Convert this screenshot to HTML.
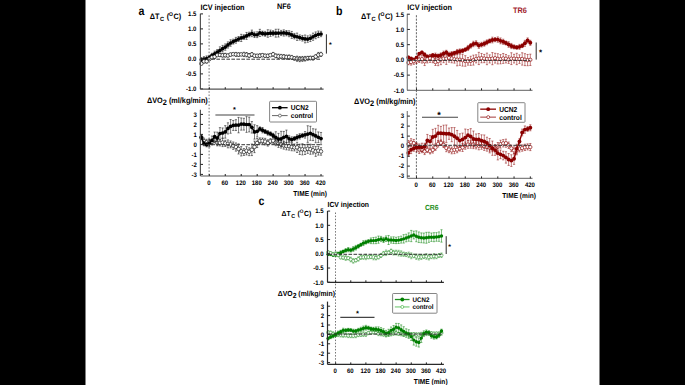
<!DOCTYPE html><html><head><meta charset="utf-8"><style>html,body{margin:0;padding:0;background:#000;overflow:hidden}svg{display:block}text{font-family:"Liberation Sans",sans-serif;text-rendering:geometricPrecision}</style></head><body>
<svg width="685" height="385" viewBox="0 0 685 385">
<rect x="0" y="0" width="685" height="385" fill="#000"/>
<rect x="85.5" y="0" width="514" height="385" fill="#fff"/>
<g>
<line x1="209.1" y1="15.3" x2="209.1" y2="176.0" stroke="#666" stroke-width="0.9" stroke-dasharray="1.6 1.7"/>
<path d="M201.32,57.62V61.74M200.22,57.62h2.2M200.22,61.74h2.2M203.98,56.66V61.55M202.88,56.66h2.2M202.88,61.55h2.2M206.64,55.93V61.22M205.54,55.93h2.2M205.54,61.22h2.2M209.30,55.37V59.68M208.20,55.37h2.2M208.20,59.68h2.2M211.96,53.24V57.47M210.86,53.24h2.2M210.86,57.47h2.2M214.62,51.11V56.69M213.52,51.11h2.2M213.52,56.69h2.2M217.28,49.55V54.87M216.18,49.55h2.2M216.18,54.87h2.2M219.94,46.84V53.77M218.84,46.84h2.2M218.84,53.77h2.2M222.60,45.37V51.94M221.50,45.37h2.2M221.50,51.94h2.2M225.26,43.93V50.24M224.16,43.93h2.2M224.16,50.24h2.2M227.92,41.89V48.06M226.82,41.89h2.2M226.82,48.06h2.2M230.58,39.76V46.24M229.48,39.76h2.2M229.48,46.24h2.2M233.24,39.15V44.08M232.14,39.15h2.2M232.14,44.08h2.2M235.90,37.36V43.18M234.80,37.36h2.2M234.80,43.18h2.2M238.56,36.50V41.48M237.46,36.50h2.2M237.46,41.48h2.2M241.22,34.30V41.52M240.12,34.30h2.2M240.12,41.52h2.2M243.88,34.72V39.40M242.78,34.72h2.2M242.78,39.40h2.2M246.54,32.43V39.39M245.44,32.43h2.2M245.44,39.39h2.2M249.20,32.15V36.88M248.10,32.15h2.2M248.10,36.88h2.2M251.86,30.09V36.68M250.76,30.09h2.2M250.76,36.68h2.2M254.52,31.97V37.54M253.42,31.97h2.2M253.42,37.54h2.2M257.18,31.82V37.63M256.08,31.82h2.2M256.08,37.63h2.2M259.84,29.32V36.51M258.74,29.32h2.2M258.74,36.51h2.2M262.50,31.11V35.80M261.40,31.11h2.2M261.40,35.80h2.2M265.16,31.37V36.22M264.06,31.37h2.2M264.06,36.22h2.2M267.82,29.72V37.27M266.72,29.72h2.2M266.72,37.27h2.2M270.48,30.04V36.36M269.38,30.04h2.2M269.38,36.36h2.2M273.14,30.68V35.72M272.04,30.68h2.2M272.04,35.72h2.2M275.80,29.24V37.16M274.70,29.24h2.2M274.70,37.16h2.2M278.46,29.20V37.03M277.36,29.20h2.2M277.36,37.03h2.2M281.12,30.39V35.59M280.02,30.39h2.2M280.02,35.59h2.2M283.78,29.85V36.08M282.68,29.85h2.2M282.68,36.08h2.2M286.44,30.51V35.84M285.34,30.51h2.2M285.34,35.84h2.2M289.10,30.79V36.73M288.00,30.79h2.2M288.00,36.73h2.2M291.76,31.42V38.42M290.66,31.42h2.2M290.66,38.42h2.2M294.42,33.39V38.91M293.32,33.39h2.2M293.32,38.91h2.2M297.08,33.09V40.41M295.98,33.09h2.2M295.98,40.41h2.2M299.74,34.88V40.09M298.64,34.88h2.2M298.64,40.09h2.2M302.40,35.43V41.07M301.30,35.43h2.2M301.30,41.07h2.2M305.06,35.00V42.86M303.96,35.00h2.2M303.96,42.86h2.2M307.72,35.83V42.31M306.62,35.83h2.2M306.62,42.31h2.2M310.38,34.97V41.56M309.28,34.97h2.2M309.28,41.56h2.2M313.04,33.11V40.34M311.94,33.11h2.2M311.94,40.34h2.2M315.70,31.93V38.78M314.60,31.93h2.2M314.60,38.78h2.2M318.36,31.03V37.60M317.26,31.03h2.2M317.26,37.60h2.2M321.02,31.32V36.68M319.92,31.32h2.2M319.92,36.68h2.2" stroke="#000" stroke-width="0.5" fill="none"/>
<path d="M201.32,59.68 L203.98,59.10 L206.64,58.57 L209.30,57.52 L211.96,55.36 L214.62,53.90 L217.28,52.21 L219.94,50.30 L222.60,48.66 L225.26,47.08 L227.92,44.97 L230.58,43.00 L233.24,41.62 L235.90,40.27 L238.56,38.99 L241.22,37.91 L243.88,37.06 L246.54,35.91 L249.20,34.51 L251.86,33.39 L254.52,34.75 L257.18,34.73 L259.84,32.92 L262.50,33.45 L265.16,33.79 L267.82,33.50 L270.48,33.20 L273.14,33.20 L275.80,33.20 L278.46,33.12 L281.12,32.99 L283.78,32.96 L286.44,33.18 L289.10,33.76 L291.76,34.92 L294.42,36.15 L297.08,36.75 L299.74,37.49 L302.40,38.25 L305.06,38.93 L307.72,39.07 L310.38,38.26 L313.04,36.73 L315.70,35.35 L318.36,34.31 L321.02,34.00" fill="none" stroke="#000" stroke-width="1.4"/>
<circle cx="201.32" cy="59.68" r="1.85" fill="#000"/>
<circle cx="203.98" cy="59.10" r="1.85" fill="#000"/>
<circle cx="206.64" cy="58.57" r="1.85" fill="#000"/>
<circle cx="209.30" cy="57.52" r="1.85" fill="#000"/>
<circle cx="211.96" cy="55.36" r="1.85" fill="#000"/>
<circle cx="214.62" cy="53.90" r="1.85" fill="#000"/>
<circle cx="217.28" cy="52.21" r="1.85" fill="#000"/>
<circle cx="219.94" cy="50.30" r="1.85" fill="#000"/>
<circle cx="222.60" cy="48.66" r="1.85" fill="#000"/>
<circle cx="225.26" cy="47.08" r="1.85" fill="#000"/>
<circle cx="227.92" cy="44.97" r="1.85" fill="#000"/>
<circle cx="230.58" cy="43.00" r="1.85" fill="#000"/>
<circle cx="233.24" cy="41.62" r="1.85" fill="#000"/>
<circle cx="235.90" cy="40.27" r="1.85" fill="#000"/>
<circle cx="238.56" cy="38.99" r="1.85" fill="#000"/>
<circle cx="241.22" cy="37.91" r="1.85" fill="#000"/>
<circle cx="243.88" cy="37.06" r="1.85" fill="#000"/>
<circle cx="246.54" cy="35.91" r="1.85" fill="#000"/>
<circle cx="249.20" cy="34.51" r="1.85" fill="#000"/>
<circle cx="251.86" cy="33.39" r="1.85" fill="#000"/>
<circle cx="254.52" cy="34.75" r="1.85" fill="#000"/>
<circle cx="257.18" cy="34.73" r="1.85" fill="#000"/>
<circle cx="259.84" cy="32.92" r="1.85" fill="#000"/>
<circle cx="262.50" cy="33.45" r="1.85" fill="#000"/>
<circle cx="265.16" cy="33.79" r="1.85" fill="#000"/>
<circle cx="267.82" cy="33.50" r="1.85" fill="#000"/>
<circle cx="270.48" cy="33.20" r="1.85" fill="#000"/>
<circle cx="273.14" cy="33.20" r="1.85" fill="#000"/>
<circle cx="275.80" cy="33.20" r="1.85" fill="#000"/>
<circle cx="278.46" cy="33.12" r="1.85" fill="#000"/>
<circle cx="281.12" cy="32.99" r="1.85" fill="#000"/>
<circle cx="283.78" cy="32.96" r="1.85" fill="#000"/>
<circle cx="286.44" cy="33.18" r="1.85" fill="#000"/>
<circle cx="289.10" cy="33.76" r="1.85" fill="#000"/>
<circle cx="291.76" cy="34.92" r="1.85" fill="#000"/>
<circle cx="294.42" cy="36.15" r="1.85" fill="#000"/>
<circle cx="297.08" cy="36.75" r="1.85" fill="#000"/>
<circle cx="299.74" cy="37.49" r="1.85" fill="#000"/>
<circle cx="302.40" cy="38.25" r="1.85" fill="#000"/>
<circle cx="305.06" cy="38.93" r="1.85" fill="#000"/>
<circle cx="307.72" cy="39.07" r="1.85" fill="#000"/>
<circle cx="310.38" cy="38.26" r="1.85" fill="#000"/>
<circle cx="313.04" cy="36.73" r="1.85" fill="#000"/>
<circle cx="315.70" cy="35.35" r="1.85" fill="#000"/>
<circle cx="318.36" cy="34.31" r="1.85" fill="#000"/>
<circle cx="321.02" cy="34.00" r="1.85" fill="#000"/>
<path d="M201.32,62.15V65.10M200.22,62.15h2.2M200.22,65.10h2.2M203.98,59.80V62.94M202.88,59.80h2.2M202.88,62.94h2.2M206.64,59.40V63.13M205.54,59.40h2.2M205.54,63.13h2.2M209.30,57.55V60.60M208.20,57.55h2.2M208.20,60.60h2.2M211.96,55.73V58.88M210.86,55.73h2.2M210.86,58.88h2.2M214.62,55.09V58.40M213.52,55.09h2.2M213.52,58.40h2.2M217.28,53.74V56.44M216.18,53.74h2.2M216.18,56.44h2.2M219.94,53.35V56.60M218.84,53.35h2.2M218.84,56.60h2.2M222.60,53.56V57.04M221.50,53.56h2.2M221.50,57.04h2.2M225.26,53.31V57.09M224.16,53.31h2.2M224.16,57.09h2.2M227.92,54.18V56.84M226.82,54.18h2.2M226.82,56.84h2.2M230.58,53.05V56.08M229.48,53.05h2.2M229.48,56.08h2.2M233.24,52.81V55.51M232.14,52.81h2.2M232.14,55.51h2.2M235.90,52.42V56.37M234.80,52.42h2.2M234.80,56.37h2.2M238.56,52.72V56.51M237.46,52.72h2.2M237.46,56.51h2.2M241.22,53.06V55.74M240.12,53.06h2.2M240.12,55.74h2.2M243.88,52.22V56.58M242.78,52.22h2.2M242.78,56.58h2.2M246.54,52.52V56.88M245.44,52.52h2.2M245.44,56.88h2.2M249.20,53.52V57.37M248.10,53.52h2.2M248.10,57.37h2.2M251.86,52.59V56.40M250.76,52.59h2.2M250.76,56.40h2.2M254.52,54.24V57.25M253.42,54.24h2.2M253.42,57.25h2.2M257.18,54.37V57.14M256.08,54.37h2.2M256.08,57.14h2.2M259.84,53.82V57.57M258.74,53.82h2.2M258.74,57.57h2.2M262.50,53.73V56.64M261.40,53.73h2.2M261.40,56.64h2.2M265.16,54.16V57.33M264.06,54.16h2.2M264.06,57.33h2.2M267.82,54.17V57.47M266.72,54.17h2.2M266.72,57.47h2.2M270.48,53.68V56.61M269.38,53.68h2.2M269.38,56.61h2.2M273.14,52.41V56.19M272.04,52.41h2.2M272.04,56.19h2.2M275.80,53.97V57.74M274.70,53.97h2.2M274.70,57.74h2.2M278.46,54.07V58.65M277.36,54.07h2.2M277.36,58.65h2.2M281.12,54.39V58.38M280.02,54.39h2.2M280.02,58.38h2.2M283.78,54.53V58.78M282.68,54.53h2.2M282.68,58.78h2.2M286.44,55.07V59.07M285.34,55.07h2.2M285.34,59.07h2.2M289.10,54.91V59.27M288.00,54.91h2.2M288.00,59.27h2.2M291.76,55.40V59.39M290.66,55.40h2.2M290.66,59.39h2.2M294.42,56.53V60.18M293.32,56.53h2.2M293.32,60.18h2.2M297.08,56.16V61.32M295.98,56.16h2.2M295.98,61.32h2.2M299.74,56.49V61.68M298.64,56.49h2.2M298.64,61.68h2.2M302.40,56.44V61.35M301.30,56.44h2.2M301.30,61.35h2.2M305.06,56.40V61.06M303.96,56.40h2.2M303.96,61.06h2.2M307.72,56.30V60.16M306.62,56.30h2.2M306.62,60.16h2.2M310.38,56.16V59.87M309.28,56.16h2.2M309.28,59.87h2.2M313.04,56.20V60.06M311.94,56.20h2.2M311.94,60.06h2.2M315.70,54.85V58.27M314.60,54.85h2.2M314.60,58.27h2.2M318.36,52.42V57.39M317.26,52.42h2.2M317.26,57.39h2.2M321.02,52.27V56.45M319.92,52.27h2.2M319.92,56.45h2.2" stroke="#000" stroke-width="0.5" fill="none"/>
<path d="M201.32,63.62 L203.98,61.37 L206.64,61.26 L209.30,59.08 L211.96,57.30 L214.62,56.75 L217.28,55.09 L219.94,54.98 L222.60,55.30 L225.26,55.20 L227.92,55.51 L230.58,54.56 L233.24,54.16 L235.90,54.39 L238.56,54.62 L241.22,54.40 L243.88,54.40 L246.54,54.70 L249.20,55.45 L251.86,54.49 L254.52,55.74 L257.18,55.76 L259.84,55.70 L262.50,55.19 L265.16,55.75 L267.82,55.82 L270.48,55.15 L273.14,54.30 L275.80,55.85 L278.46,56.36 L281.12,56.39 L283.78,56.66 L286.44,57.07 L289.10,57.09 L291.76,57.40 L294.42,58.35 L297.08,58.74 L299.74,59.08 L302.40,58.89 L305.06,58.73 L307.72,58.23 L310.38,58.02 L313.04,58.13 L315.70,56.56 L318.36,54.90 L321.02,54.36" fill="none" stroke="#000" stroke-width="0.8"/>
<circle cx="201.32" cy="63.62" r="1.80" fill="#fff" stroke="#000" stroke-width="0.6"/>
<circle cx="203.98" cy="61.37" r="1.80" fill="#fff" stroke="#000" stroke-width="0.6"/>
<circle cx="206.64" cy="61.26" r="1.80" fill="#fff" stroke="#000" stroke-width="0.6"/>
<circle cx="209.30" cy="59.08" r="1.80" fill="#fff" stroke="#000" stroke-width="0.6"/>
<circle cx="211.96" cy="57.30" r="1.80" fill="#fff" stroke="#000" stroke-width="0.6"/>
<circle cx="214.62" cy="56.75" r="1.80" fill="#fff" stroke="#000" stroke-width="0.6"/>
<circle cx="217.28" cy="55.09" r="1.80" fill="#fff" stroke="#000" stroke-width="0.6"/>
<circle cx="219.94" cy="54.98" r="1.80" fill="#fff" stroke="#000" stroke-width="0.6"/>
<circle cx="222.60" cy="55.30" r="1.80" fill="#fff" stroke="#000" stroke-width="0.6"/>
<circle cx="225.26" cy="55.20" r="1.80" fill="#fff" stroke="#000" stroke-width="0.6"/>
<circle cx="227.92" cy="55.51" r="1.80" fill="#fff" stroke="#000" stroke-width="0.6"/>
<circle cx="230.58" cy="54.56" r="1.80" fill="#fff" stroke="#000" stroke-width="0.6"/>
<circle cx="233.24" cy="54.16" r="1.80" fill="#fff" stroke="#000" stroke-width="0.6"/>
<circle cx="235.90" cy="54.39" r="1.80" fill="#fff" stroke="#000" stroke-width="0.6"/>
<circle cx="238.56" cy="54.62" r="1.80" fill="#fff" stroke="#000" stroke-width="0.6"/>
<circle cx="241.22" cy="54.40" r="1.80" fill="#fff" stroke="#000" stroke-width="0.6"/>
<circle cx="243.88" cy="54.40" r="1.80" fill="#fff" stroke="#000" stroke-width="0.6"/>
<circle cx="246.54" cy="54.70" r="1.80" fill="#fff" stroke="#000" stroke-width="0.6"/>
<circle cx="249.20" cy="55.45" r="1.80" fill="#fff" stroke="#000" stroke-width="0.6"/>
<circle cx="251.86" cy="54.49" r="1.80" fill="#fff" stroke="#000" stroke-width="0.6"/>
<circle cx="254.52" cy="55.74" r="1.80" fill="#fff" stroke="#000" stroke-width="0.6"/>
<circle cx="257.18" cy="55.76" r="1.80" fill="#fff" stroke="#000" stroke-width="0.6"/>
<circle cx="259.84" cy="55.70" r="1.80" fill="#fff" stroke="#000" stroke-width="0.6"/>
<circle cx="262.50" cy="55.19" r="1.80" fill="#fff" stroke="#000" stroke-width="0.6"/>
<circle cx="265.16" cy="55.75" r="1.80" fill="#fff" stroke="#000" stroke-width="0.6"/>
<circle cx="267.82" cy="55.82" r="1.80" fill="#fff" stroke="#000" stroke-width="0.6"/>
<circle cx="270.48" cy="55.15" r="1.80" fill="#fff" stroke="#000" stroke-width="0.6"/>
<circle cx="273.14" cy="54.30" r="1.80" fill="#fff" stroke="#000" stroke-width="0.6"/>
<circle cx="275.80" cy="55.85" r="1.80" fill="#fff" stroke="#000" stroke-width="0.6"/>
<circle cx="278.46" cy="56.36" r="1.80" fill="#fff" stroke="#000" stroke-width="0.6"/>
<circle cx="281.12" cy="56.39" r="1.80" fill="#fff" stroke="#000" stroke-width="0.6"/>
<circle cx="283.78" cy="56.66" r="1.80" fill="#fff" stroke="#000" stroke-width="0.6"/>
<circle cx="286.44" cy="57.07" r="1.80" fill="#fff" stroke="#000" stroke-width="0.6"/>
<circle cx="289.10" cy="57.09" r="1.80" fill="#fff" stroke="#000" stroke-width="0.6"/>
<circle cx="291.76" cy="57.40" r="1.80" fill="#fff" stroke="#000" stroke-width="0.6"/>
<circle cx="294.42" cy="58.35" r="1.80" fill="#fff" stroke="#000" stroke-width="0.6"/>
<circle cx="297.08" cy="58.74" r="1.80" fill="#fff" stroke="#000" stroke-width="0.6"/>
<circle cx="299.74" cy="59.08" r="1.80" fill="#fff" stroke="#000" stroke-width="0.6"/>
<circle cx="302.40" cy="58.89" r="1.80" fill="#fff" stroke="#000" stroke-width="0.6"/>
<circle cx="305.06" cy="58.73" r="1.80" fill="#fff" stroke="#000" stroke-width="0.6"/>
<circle cx="307.72" cy="58.23" r="1.80" fill="#fff" stroke="#000" stroke-width="0.6"/>
<circle cx="310.38" cy="58.02" r="1.80" fill="#fff" stroke="#000" stroke-width="0.6"/>
<circle cx="313.04" cy="58.13" r="1.80" fill="#fff" stroke="#000" stroke-width="0.6"/>
<circle cx="315.70" cy="56.56" r="1.80" fill="#fff" stroke="#000" stroke-width="0.6"/>
<circle cx="318.36" cy="54.90" r="1.80" fill="#fff" stroke="#000" stroke-width="0.6"/>
<circle cx="321.02" cy="54.36" r="1.80" fill="#fff" stroke="#000" stroke-width="0.6"/>
<path d="M201.32,135.11V139.63M200.22,135.11h2.2M200.22,139.63h2.2M203.98,138.10V144.00M202.88,138.10h2.2M202.88,144.00h2.2M206.64,139.26V145.45M205.54,139.26h2.2M205.54,145.45h2.2M209.30,139.04V146.00M208.20,139.04h2.2M208.20,146.00h2.2M211.96,139.42V144.64M210.86,139.42h2.2M210.86,144.64h2.2M214.62,137.18V142.77M213.52,137.18h2.2M213.52,142.77h2.2M217.28,140.31V145.85M216.18,140.31h2.2M216.18,145.85h2.2M219.94,139.89V145.92M218.84,139.89h2.2M218.84,145.92h2.2M222.60,138.50V146.61M221.50,138.50h2.2M221.50,146.61h2.2M225.26,140.32V146.45M224.16,140.32h2.2M224.16,146.45h2.2M227.92,139.92V147.83M226.82,139.92h2.2M226.82,147.83h2.2M230.58,140.94V147.84M229.48,140.94h2.2M229.48,147.84h2.2M233.24,141.98V149.40M232.14,141.98h2.2M232.14,149.40h2.2M235.90,142.95V151.14M234.80,142.95h2.2M234.80,151.14h2.2M238.56,143.85V154.00M237.46,143.85h2.2M237.46,154.00h2.2M241.22,146.58V155.96M240.12,146.58h2.2M240.12,155.96h2.2M243.88,148.56V155.46M242.78,148.56h2.2M242.78,155.46h2.2M246.54,146.69V154.97M245.44,146.69h2.2M245.44,154.97h2.2M249.20,147.80V155.65M248.10,147.80h2.2M248.10,155.65h2.2M251.86,144.02V155.58M250.76,144.02h2.2M250.76,155.58h2.2M254.52,141.14V152.65M253.42,141.14h2.2M253.42,152.65h2.2M257.18,138.54V147.56M256.08,138.54h2.2M256.08,147.56h2.2M259.84,137.87V143.87M258.74,137.87h2.2M258.74,143.87h2.2M262.50,137.97V143.77M261.40,137.97h2.2M261.40,143.77h2.2M265.16,138.34V144.88M264.06,138.34h2.2M264.06,144.88h2.2M267.82,139.77V146.10M266.72,139.77h2.2M266.72,146.10h2.2M270.48,138.67V143.67M269.38,138.67h2.2M269.38,143.67h2.2M273.14,137.25V144.15M272.04,137.25h2.2M272.04,144.15h2.2M275.80,139.57V145.69M274.70,139.57h2.2M274.70,145.69h2.2M278.46,139.88V147.42M277.36,139.88h2.2M277.36,147.42h2.2M281.12,140.64V148.09M280.02,140.64h2.2M280.02,148.09h2.2M283.78,141.65V149.13M282.68,141.65h2.2M282.68,149.13h2.2M286.44,142.30V149.85M285.34,142.30h2.2M285.34,149.85h2.2M289.10,142.15V150.13M288.00,142.15h2.2M288.00,150.13h2.2M291.76,143.11V150.77M290.66,143.11h2.2M290.66,150.77h2.2M294.42,143.95V150.93M293.32,143.95h2.2M293.32,150.93h2.2M297.08,142.28V152.49M295.98,142.28h2.2M295.98,152.49h2.2M299.74,144.15V154.47M298.64,144.15h2.2M298.64,154.47h2.2M302.40,143.72V154.91M301.30,143.72h2.2M301.30,154.91h2.2M305.06,144.67V154.52M303.96,144.67h2.2M303.96,154.52h2.2M307.72,144.14V153.39M306.62,144.14h2.2M306.62,153.39h2.2M310.38,144.15V154.27M309.28,144.15h2.2M309.28,154.27h2.2M313.04,146.67V154.02M311.94,146.67h2.2M311.94,154.02h2.2M315.70,146.57V156.37M314.60,146.57h2.2M314.60,156.37h2.2M318.36,146.36V155.11M317.26,146.36h2.2M317.26,155.11h2.2M321.02,147.65V155.20M319.92,147.65h2.2M319.92,155.20h2.2" stroke="#000" stroke-width="0.5" fill="none"/>
<path d="M201.32,137.37 L203.98,141.05 L206.64,142.36 L209.30,142.52 L211.96,142.03 L214.62,139.98 L217.28,143.08 L219.94,142.91 L222.60,142.55 L225.26,143.39 L227.92,143.87 L230.58,144.39 L233.24,145.69 L235.90,147.04 L238.56,148.93 L241.22,151.27 L243.88,152.01 L246.54,150.83 L249.20,151.72 L251.86,149.80 L254.52,146.89 L257.18,143.05 L259.84,140.87 L262.50,140.87 L265.16,141.61 L267.82,142.94 L270.48,141.17 L273.14,140.70 L275.80,142.63 L278.46,143.65 L281.12,144.36 L283.78,145.39 L286.44,146.07 L289.10,146.14 L291.76,146.94 L294.42,147.44 L297.08,147.38 L299.74,149.31 L302.40,149.31 L305.06,149.60 L307.72,148.76 L310.38,149.21 L313.04,150.34 L315.70,151.47 L318.36,150.73 L321.02,151.43" fill="none" stroke="#000" stroke-width="0.8"/>
<circle cx="201.32" cy="137.37" r="1.80" fill="#fff" stroke="#000" stroke-width="0.6"/>
<circle cx="203.98" cy="141.05" r="1.80" fill="#fff" stroke="#000" stroke-width="0.6"/>
<circle cx="206.64" cy="142.36" r="1.80" fill="#fff" stroke="#000" stroke-width="0.6"/>
<circle cx="209.30" cy="142.52" r="1.80" fill="#fff" stroke="#000" stroke-width="0.6"/>
<circle cx="211.96" cy="142.03" r="1.80" fill="#fff" stroke="#000" stroke-width="0.6"/>
<circle cx="214.62" cy="139.98" r="1.80" fill="#fff" stroke="#000" stroke-width="0.6"/>
<circle cx="217.28" cy="143.08" r="1.80" fill="#fff" stroke="#000" stroke-width="0.6"/>
<circle cx="219.94" cy="142.91" r="1.80" fill="#fff" stroke="#000" stroke-width="0.6"/>
<circle cx="222.60" cy="142.55" r="1.80" fill="#fff" stroke="#000" stroke-width="0.6"/>
<circle cx="225.26" cy="143.39" r="1.80" fill="#fff" stroke="#000" stroke-width="0.6"/>
<circle cx="227.92" cy="143.87" r="1.80" fill="#fff" stroke="#000" stroke-width="0.6"/>
<circle cx="230.58" cy="144.39" r="1.80" fill="#fff" stroke="#000" stroke-width="0.6"/>
<circle cx="233.24" cy="145.69" r="1.80" fill="#fff" stroke="#000" stroke-width="0.6"/>
<circle cx="235.90" cy="147.04" r="1.80" fill="#fff" stroke="#000" stroke-width="0.6"/>
<circle cx="238.56" cy="148.93" r="1.80" fill="#fff" stroke="#000" stroke-width="0.6"/>
<circle cx="241.22" cy="151.27" r="1.80" fill="#fff" stroke="#000" stroke-width="0.6"/>
<circle cx="243.88" cy="152.01" r="1.80" fill="#fff" stroke="#000" stroke-width="0.6"/>
<circle cx="246.54" cy="150.83" r="1.80" fill="#fff" stroke="#000" stroke-width="0.6"/>
<circle cx="249.20" cy="151.72" r="1.80" fill="#fff" stroke="#000" stroke-width="0.6"/>
<circle cx="251.86" cy="149.80" r="1.80" fill="#fff" stroke="#000" stroke-width="0.6"/>
<circle cx="254.52" cy="146.89" r="1.80" fill="#fff" stroke="#000" stroke-width="0.6"/>
<circle cx="257.18" cy="143.05" r="1.80" fill="#fff" stroke="#000" stroke-width="0.6"/>
<circle cx="259.84" cy="140.87" r="1.80" fill="#fff" stroke="#000" stroke-width="0.6"/>
<circle cx="262.50" cy="140.87" r="1.80" fill="#fff" stroke="#000" stroke-width="0.6"/>
<circle cx="265.16" cy="141.61" r="1.80" fill="#fff" stroke="#000" stroke-width="0.6"/>
<circle cx="267.82" cy="142.94" r="1.80" fill="#fff" stroke="#000" stroke-width="0.6"/>
<circle cx="270.48" cy="141.17" r="1.80" fill="#fff" stroke="#000" stroke-width="0.6"/>
<circle cx="273.14" cy="140.70" r="1.80" fill="#fff" stroke="#000" stroke-width="0.6"/>
<circle cx="275.80" cy="142.63" r="1.80" fill="#fff" stroke="#000" stroke-width="0.6"/>
<circle cx="278.46" cy="143.65" r="1.80" fill="#fff" stroke="#000" stroke-width="0.6"/>
<circle cx="281.12" cy="144.36" r="1.80" fill="#fff" stroke="#000" stroke-width="0.6"/>
<circle cx="283.78" cy="145.39" r="1.80" fill="#fff" stroke="#000" stroke-width="0.6"/>
<circle cx="286.44" cy="146.07" r="1.80" fill="#fff" stroke="#000" stroke-width="0.6"/>
<circle cx="289.10" cy="146.14" r="1.80" fill="#fff" stroke="#000" stroke-width="0.6"/>
<circle cx="291.76" cy="146.94" r="1.80" fill="#fff" stroke="#000" stroke-width="0.6"/>
<circle cx="294.42" cy="147.44" r="1.80" fill="#fff" stroke="#000" stroke-width="0.6"/>
<circle cx="297.08" cy="147.38" r="1.80" fill="#fff" stroke="#000" stroke-width="0.6"/>
<circle cx="299.74" cy="149.31" r="1.80" fill="#fff" stroke="#000" stroke-width="0.6"/>
<circle cx="302.40" cy="149.31" r="1.80" fill="#fff" stroke="#000" stroke-width="0.6"/>
<circle cx="305.06" cy="149.60" r="1.80" fill="#fff" stroke="#000" stroke-width="0.6"/>
<circle cx="307.72" cy="148.76" r="1.80" fill="#fff" stroke="#000" stroke-width="0.6"/>
<circle cx="310.38" cy="149.21" r="1.80" fill="#fff" stroke="#000" stroke-width="0.6"/>
<circle cx="313.04" cy="150.34" r="1.80" fill="#fff" stroke="#000" stroke-width="0.6"/>
<circle cx="315.70" cy="151.47" r="1.80" fill="#fff" stroke="#000" stroke-width="0.6"/>
<circle cx="318.36" cy="150.73" r="1.80" fill="#fff" stroke="#000" stroke-width="0.6"/>
<circle cx="321.02" cy="151.43" r="1.80" fill="#fff" stroke="#000" stroke-width="0.6"/>
<path d="M201.32,135.81V139.02M200.22,135.81h2.2M200.22,139.02h2.2M203.98,141.42V145.82M202.88,141.42h2.2M202.88,145.82h2.2M206.64,142.53V146.83M205.54,142.53h2.2M205.54,146.83h2.2M209.30,139.67V146.93M208.20,139.67h2.2M208.20,146.93h2.2M211.96,136.01V144.81M210.86,136.01h2.2M210.86,144.81h2.2M214.62,132.02V141.06M213.52,132.02h2.2M213.52,141.06h2.2M217.28,132.13V143.95M216.18,132.13h2.2M216.18,143.95h2.2M219.94,127.65V139.39M218.84,127.65h2.2M218.84,139.39h2.2M222.60,127.95V138.03M221.50,127.95h2.2M221.50,138.03h2.2M225.26,125.62V138.15M224.16,125.62h2.2M224.16,138.15h2.2M227.92,122.80V133.97M226.82,122.80h2.2M226.82,133.97h2.2M230.58,119.52V133.26M229.48,119.52h2.2M229.48,133.26h2.2M233.24,120.48V130.45M232.14,120.48h2.2M232.14,130.45h2.2M235.90,119.68V130.52M234.80,119.68h2.2M234.80,130.52h2.2M238.56,117.38V132.82M237.46,117.38h2.2M237.46,132.82h2.2M241.22,117.95V130.14M240.12,117.95h2.2M240.12,130.14h2.2M243.88,118.31V130.09M242.78,118.31h2.2M242.78,130.09h2.2M246.54,116.63V132.37M245.44,116.63h2.2M245.44,132.37h2.2M249.20,117.08V131.92M248.10,117.08h2.2M248.10,131.92h2.2M251.86,121.55V133.09M250.76,121.55h2.2M250.76,133.09h2.2M254.52,124.75V139.11M253.42,124.75h2.2M253.42,139.11h2.2M257.18,125.67V136.99M256.08,125.67h2.2M256.08,136.99h2.2M259.84,126.87V131.04M258.74,126.87h2.2M258.74,131.04h2.2M262.50,127.51V132.89M261.40,127.51h2.2M261.40,132.89h2.2M265.16,129.50V133.56M264.06,129.50h2.2M264.06,133.56h2.2M267.82,130.56V135.16M266.72,130.56h2.2M266.72,135.16h2.2M270.48,131.82V135.78M269.38,131.82h2.2M269.38,135.78h2.2M273.14,133.25V137.51M272.04,133.25h2.2M272.04,137.51h2.2M275.80,131.76V143.16M274.70,131.76h2.2M274.70,143.16h2.2M278.46,133.37V144.79M277.36,133.37h2.2M277.36,144.79h2.2M281.12,131.32V146.26M280.02,131.32h2.2M280.02,146.26h2.2M283.78,131.43V143.06M282.68,131.43h2.2M282.68,143.06h2.2M286.44,130.08V142.72M285.34,130.08h2.2M285.34,142.72h2.2M289.10,135.83V141.77M288.00,135.83h2.2M288.00,141.77h2.2M291.76,136.83V142.30M290.66,136.83h2.2M290.66,142.30h2.2M294.42,136.58V140.61M293.32,136.58h2.2M293.32,140.61h2.2M297.08,134.74V139.96M295.98,134.74h2.2M295.98,139.96h2.2M299.74,133.70V139.04M298.64,133.70h2.2M298.64,139.04h2.2M302.40,133.39V137.59M301.30,133.39h2.2M301.30,137.59h2.2M305.06,131.60V138.13M303.96,131.60h2.2M303.96,138.13h2.2M307.72,125.76V142.39M306.62,125.76h2.2M306.62,142.39h2.2M310.38,126.25V140.35M309.28,126.25h2.2M309.28,140.35h2.2M313.04,128.74V140.59M311.94,128.74h2.2M311.94,140.59h2.2M315.70,129.08V142.75M314.60,129.08h2.2M314.60,142.75h2.2M318.36,131.93V142.60M317.26,131.93h2.2M317.26,142.60h2.2M321.02,132.45V144.69M319.92,132.45h2.2M319.92,144.69h2.2" stroke="#000" stroke-width="0.5" fill="none"/>
<path d="M201.32,137.42 L203.98,143.62 L206.64,144.68 L209.30,143.30 L211.96,140.41 L214.62,136.54 L217.28,138.04 L219.94,133.52 L222.60,132.99 L225.26,131.89 L227.92,128.38 L230.58,126.39 L233.24,125.46 L235.90,125.10 L238.56,125.10 L241.22,124.05 L243.88,124.20 L246.54,124.50 L249.20,124.50 L251.86,127.32 L254.52,131.93 L257.18,131.33 L259.84,128.96 L262.50,130.20 L265.16,131.53 L267.82,132.86 L270.48,133.80 L273.14,135.38 L275.80,137.46 L278.46,139.08 L281.12,138.79 L283.78,137.25 L286.44,136.40 L289.10,138.80 L291.76,139.57 L294.42,138.60 L297.08,137.35 L299.74,136.37 L302.40,135.49 L305.06,134.86 L307.72,134.07 L310.38,133.30 L313.04,134.67 L315.70,135.91 L318.36,137.27 L321.02,138.57" fill="none" stroke="#000" stroke-width="1.4"/>
<circle cx="201.32" cy="137.42" r="1.85" fill="#000"/>
<circle cx="203.98" cy="143.62" r="1.85" fill="#000"/>
<circle cx="206.64" cy="144.68" r="1.85" fill="#000"/>
<circle cx="209.30" cy="143.30" r="1.85" fill="#000"/>
<circle cx="211.96" cy="140.41" r="1.85" fill="#000"/>
<circle cx="214.62" cy="136.54" r="1.85" fill="#000"/>
<circle cx="217.28" cy="138.04" r="1.85" fill="#000"/>
<circle cx="219.94" cy="133.52" r="1.85" fill="#000"/>
<circle cx="222.60" cy="132.99" r="1.85" fill="#000"/>
<circle cx="225.26" cy="131.89" r="1.85" fill="#000"/>
<circle cx="227.92" cy="128.38" r="1.85" fill="#000"/>
<circle cx="230.58" cy="126.39" r="1.85" fill="#000"/>
<circle cx="233.24" cy="125.46" r="1.85" fill="#000"/>
<circle cx="235.90" cy="125.10" r="1.85" fill="#000"/>
<circle cx="238.56" cy="125.10" r="1.85" fill="#000"/>
<circle cx="241.22" cy="124.05" r="1.85" fill="#000"/>
<circle cx="243.88" cy="124.20" r="1.85" fill="#000"/>
<circle cx="246.54" cy="124.50" r="1.85" fill="#000"/>
<circle cx="249.20" cy="124.50" r="1.85" fill="#000"/>
<circle cx="251.86" cy="127.32" r="1.85" fill="#000"/>
<circle cx="254.52" cy="131.93" r="1.85" fill="#000"/>
<circle cx="257.18" cy="131.33" r="1.85" fill="#000"/>
<circle cx="259.84" cy="128.96" r="1.85" fill="#000"/>
<circle cx="262.50" cy="130.20" r="1.85" fill="#000"/>
<circle cx="265.16" cy="131.53" r="1.85" fill="#000"/>
<circle cx="267.82" cy="132.86" r="1.85" fill="#000"/>
<circle cx="270.48" cy="133.80" r="1.85" fill="#000"/>
<circle cx="273.14" cy="135.38" r="1.85" fill="#000"/>
<circle cx="275.80" cy="137.46" r="1.85" fill="#000"/>
<circle cx="278.46" cy="139.08" r="1.85" fill="#000"/>
<circle cx="281.12" cy="138.79" r="1.85" fill="#000"/>
<circle cx="283.78" cy="137.25" r="1.85" fill="#000"/>
<circle cx="286.44" cy="136.40" r="1.85" fill="#000"/>
<circle cx="289.10" cy="138.80" r="1.85" fill="#000"/>
<circle cx="291.76" cy="139.57" r="1.85" fill="#000"/>
<circle cx="294.42" cy="138.60" r="1.85" fill="#000"/>
<circle cx="297.08" cy="137.35" r="1.85" fill="#000"/>
<circle cx="299.74" cy="136.37" r="1.85" fill="#000"/>
<circle cx="302.40" cy="135.49" r="1.85" fill="#000"/>
<circle cx="305.06" cy="134.86" r="1.85" fill="#000"/>
<circle cx="307.72" cy="134.07" r="1.85" fill="#000"/>
<circle cx="310.38" cy="133.30" r="1.85" fill="#000"/>
<circle cx="313.04" cy="134.67" r="1.85" fill="#000"/>
<circle cx="315.70" cy="135.91" r="1.85" fill="#000"/>
<circle cx="318.36" cy="137.27" r="1.85" fill="#000"/>
<circle cx="321.02" cy="138.57" r="1.85" fill="#000"/>
<line x1="201.4" y1="59.2" x2="321.02" y2="59.2" stroke="#333" stroke-width="1.0" stroke-dasharray="3.6 1.4"/>
<line x1="201.4" y1="144.7" x2="321.02" y2="144.7" stroke="#333" stroke-width="1.0" stroke-dasharray="3.6 1.4"/>
<line x1="200.40" y1="13.80" x2="200.40" y2="89.20" stroke="#555" stroke-width="1.2" />
<line x1="200.40" y1="13.90" x2="203.00" y2="13.90" stroke="#222" stroke-width="1.0" />
<line x1="200.40" y1="28.90" x2="203.00" y2="28.90" stroke="#222" stroke-width="1.0" />
<line x1="200.40" y1="43.90" x2="203.00" y2="43.90" stroke="#222" stroke-width="1.0" />
<line x1="200.40" y1="58.90" x2="203.00" y2="58.90" stroke="#222" stroke-width="1.0" />
<line x1="200.40" y1="73.90" x2="203.00" y2="73.90" stroke="#222" stroke-width="1.0" />
<line x1="200.40" y1="88.90" x2="203.00" y2="88.90" stroke="#222" stroke-width="1.0" />
<line x1="200.40" y1="89.20" x2="323.60" y2="89.20" stroke="#555" stroke-width="1.2" />
<line x1="209.30" y1="89.20" x2="209.30" y2="87.20" stroke="#222" stroke-width="1.0" />
<line x1="225.26" y1="89.20" x2="225.26" y2="87.20" stroke="#222" stroke-width="1.0" />
<line x1="241.22" y1="89.20" x2="241.22" y2="87.20" stroke="#222" stroke-width="1.0" />
<line x1="257.18" y1="89.20" x2="257.18" y2="87.20" stroke="#222" stroke-width="1.0" />
<line x1="273.14" y1="89.20" x2="273.14" y2="87.20" stroke="#222" stroke-width="1.0" />
<line x1="289.10" y1="89.20" x2="289.10" y2="87.20" stroke="#222" stroke-width="1.0" />
<line x1="305.06" y1="89.20" x2="305.06" y2="87.20" stroke="#222" stroke-width="1.0" />
<line x1="321.02" y1="89.20" x2="321.02" y2="87.20" stroke="#222" stroke-width="1.0" />
<line x1="200.40" y1="109.70" x2="200.40" y2="176.00" stroke="#555" stroke-width="1.2" />
<line x1="200.40" y1="114.40" x2="203.00" y2="114.40" stroke="#222" stroke-width="1.0" />
<line x1="200.40" y1="124.40" x2="203.00" y2="124.40" stroke="#222" stroke-width="1.0" />
<line x1="200.40" y1="134.40" x2="203.00" y2="134.40" stroke="#222" stroke-width="1.0" />
<line x1="200.40" y1="144.40" x2="203.00" y2="144.40" stroke="#222" stroke-width="1.0" />
<line x1="200.40" y1="154.40" x2="203.00" y2="154.40" stroke="#222" stroke-width="1.0" />
<line x1="200.40" y1="164.40" x2="203.00" y2="164.40" stroke="#222" stroke-width="1.0" />
<line x1="200.40" y1="174.40" x2="203.00" y2="174.40" stroke="#222" stroke-width="1.0" />
<line x1="200.40" y1="176.00" x2="323.60" y2="176.00" stroke="#555" stroke-width="1.2" />
<line x1="209.30" y1="176.00" x2="209.30" y2="174.00" stroke="#222" stroke-width="1.0" />
<line x1="225.26" y1="176.00" x2="225.26" y2="174.00" stroke="#222" stroke-width="1.0" />
<line x1="241.22" y1="176.00" x2="241.22" y2="174.00" stroke="#222" stroke-width="1.0" />
<line x1="257.18" y1="176.00" x2="257.18" y2="174.00" stroke="#222" stroke-width="1.0" />
<line x1="273.14" y1="176.00" x2="273.14" y2="174.00" stroke="#222" stroke-width="1.0" />
<line x1="289.10" y1="176.00" x2="289.10" y2="174.00" stroke="#222" stroke-width="1.0" />
<line x1="305.06" y1="176.00" x2="305.06" y2="174.00" stroke="#222" stroke-width="1.0" />
<line x1="321.02" y1="176.00" x2="321.02" y2="174.00" stroke="#222" stroke-width="1.0" />
<text transform="matrix(0.9259,0,0,1,14.553,0)" x="196.4" y="16.2" font-size="6.48" font-weight="bold" text-anchor="end" fill="#000" >1.5</text>
<text transform="matrix(0.9259,0,0,1,14.553,0)" x="196.4" y="31.2" font-size="6.48" font-weight="bold" text-anchor="end" fill="#000" >1.0</text>
<text transform="matrix(0.9259,0,0,1,14.553,0)" x="196.4" y="46.2" font-size="6.48" font-weight="bold" text-anchor="end" fill="#000" >0.5</text>
<text transform="matrix(0.9259,0,0,1,14.553,0)" x="196.4" y="61.2" font-size="6.48" font-weight="bold" text-anchor="end" fill="#000" >0.0</text>
<text transform="matrix(0.9259,0,0,1,14.553,0)" x="196.4" y="76.2" font-size="6.48" font-weight="bold" text-anchor="end" fill="#000" >-0.5</text>
<text transform="matrix(0.9259,0,0,1,14.553,0)" x="196.4" y="91.2" font-size="6.48" font-weight="bold" text-anchor="end" fill="#000" >-1.0</text>
<text transform="matrix(0.9259,0,0,1,14.590,0)" x="196.9" y="116.7" font-size="6.48" font-weight="bold" text-anchor="end" fill="#000" >3</text>
<text transform="matrix(0.9259,0,0,1,14.590,0)" x="196.9" y="126.7" font-size="6.48" font-weight="bold" text-anchor="end" fill="#000" >2</text>
<text transform="matrix(0.9259,0,0,1,14.590,0)" x="196.9" y="136.7" font-size="6.48" font-weight="bold" text-anchor="end" fill="#000" >1</text>
<text transform="matrix(0.9259,0,0,1,14.590,0)" x="196.9" y="146.7" font-size="6.48" font-weight="bold" text-anchor="end" fill="#000" >0</text>
<text transform="matrix(0.9259,0,0,1,14.590,0)" x="196.9" y="156.7" font-size="6.48" font-weight="bold" text-anchor="end" fill="#000" >-1</text>
<text transform="matrix(0.9259,0,0,1,14.590,0)" x="196.9" y="166.7" font-size="6.48" font-weight="bold" text-anchor="end" fill="#000" >-2</text>
<text transform="matrix(0.9259,0,0,1,14.590,0)" x="196.9" y="176.7" font-size="6.48" font-weight="bold" text-anchor="end" fill="#000" >-3</text>
<text transform="matrix(0.9259,0,0,1,15.479,0)" x="208.9" y="184.5" font-size="6.48" font-weight="bold" text-anchor="middle" fill="#000" >0</text>
<text transform="matrix(0.9259,0,0,1,16.662,0)" x="224.86" y="184.5" font-size="6.48" font-weight="bold" text-anchor="middle" fill="#000" >60</text>
<text transform="matrix(0.9259,0,0,1,17.845,0)" x="240.82" y="184.5" font-size="6.48" font-weight="bold" text-anchor="middle" fill="#000" >120</text>
<text transform="matrix(0.9259,0,0,1,19.027,0)" x="256.78" y="184.5" font-size="6.48" font-weight="bold" text-anchor="middle" fill="#000" >180</text>
<text transform="matrix(0.9259,0,0,1,20.210,0)" x="272.74" y="184.5" font-size="6.48" font-weight="bold" text-anchor="middle" fill="#000" >240</text>
<text transform="matrix(0.9259,0,0,1,21.393,0)" x="288.7" y="184.5" font-size="6.48" font-weight="bold" text-anchor="middle" fill="#000" >300</text>
<text transform="matrix(0.9259,0,0,1,22.575,0)" x="304.66" y="184.5" font-size="6.48" font-weight="bold" text-anchor="middle" fill="#000" >360</text>
<text transform="matrix(0.9259,0,0,1,23.758,0)" x="320.62" y="184.5" font-size="6.48" font-weight="bold" text-anchor="middle" fill="#000" >420</text>
<text transform="matrix(0.9259,0,0,1,24.231,0)" x="327.0" y="195.5" font-size="7.13" font-weight="bold" text-anchor="end" fill="#000" >TIME (min)</text>
<text transform="translate(138.6,14.5) scale(0.86,1)" x="0" y="0" font-size="12.3" font-weight="bold">a</text>
<text transform="matrix(0.9259,0,0,1,11.100,0)" y="19.1" font-size="7.88" font-weight="bold"><tspan x="149.80">&#916;T</tspan><tspan x="160.92" dy="2.00" font-size="6.05">C</tspan><tspan x="168.05" dy="-2.00">(</tspan><tspan x="170.54" dy="-3.10" font-size="5.40">O</tspan><tspan x="175.50" dy="3.10">C)</tspan></text>
<text transform="matrix(0.9259,0,0,1,10.893,0)" x="147.00" y="103.0" font-size="7.88" font-weight="bold">&#916;VO<tspan dy="2.20">2</tspan><tspan dy="-2.20"> (ml/kg/min)</tspan></text>
<text transform="matrix(0.9259,0,0,1,14.850,0)" x="200.4" y="10.0" font-size="7.88" font-weight="bold" text-anchor="start" fill="#000" >ICV injection</text>
<text transform="matrix(0.9259,0,0,1,20.526,0)" x="277.0" y="9.1" font-size="7.88" font-weight="bold" text-anchor="start" fill="#000" >NF6</text>
<line x1="326.40" y1="34.30" x2="326.40" y2="53.60" stroke="#2a2a2a" stroke-width="1.0" />
<text x="330.4" y="47.08" font-size="7.0" font-weight="bold" text-anchor="middle" fill="#000" >*</text>
<line x1="215.40" y1="115.00" x2="254.50" y2="115.00" stroke="#444" stroke-width="1.1" />
<text x="234.35" y="112.03" font-size="7.3" font-weight="bold" text-anchor="middle" fill="#000" >*</text>
<rect x="269.6" y="101.3" width="46.90" height="20.70" fill="#fff" stroke="#666" stroke-width="0.8" rx="0.8"/>
<line x1="272.00" y1="107.70" x2="287.60" y2="107.70" stroke="#000" stroke-width="1.3" />
<circle cx="279.90" cy="107.7" r="1.9" fill="#000"/>
<line x1="272.00" y1="115.60" x2="287.60" y2="115.60" stroke="#555" stroke-width="0.9" />
<circle cx="279.90" cy="115.6" r="1.5" fill="#fff" stroke="#555" stroke-width="0.75"/>
<text transform="matrix(0.9259,0,0,1,21.548,0)" x="290.8" y="110.1" font-size="7.13" font-weight="bold" text-anchor="start" fill="#000" >UCN2</text>
<text transform="matrix(0.9259,0,0,1,21.548,0)" x="290.8" y="118.0" font-size="7.13" font-weight="bold" text-anchor="start" fill="#000" >control</text>
<line x1="416.4" y1="15.2" x2="416.4" y2="178.4" stroke="#555" stroke-width="0.9" stroke-dasharray="2.1 1.3"/>
<path d="M408.37,56.12V58.65M407.27,56.12h2.2M407.27,58.65h2.2M411.08,57.57V59.36M409.98,57.57h2.2M409.98,59.36h2.2M413.79,58.73V60.49M412.69,58.73h2.2M412.69,60.49h2.2M416.50,56.27V59.37M415.40,56.27h2.2M415.40,59.37h2.2M419.21,52.49V54.94M418.11,52.49h2.2M418.11,54.94h2.2M421.92,51.12V53.83M420.82,51.12h2.2M420.82,53.83h2.2M424.63,52.70V56.77M423.53,52.70h2.2M423.53,56.77h2.2M427.34,54.91V58.61M426.24,54.91h2.2M426.24,58.61h2.2M430.05,54.75V59.58M428.95,54.75h2.2M428.95,59.58h2.2M432.76,53.48V57.00M431.66,53.48h2.2M431.66,57.00h2.2M435.47,53.12V58.15M434.37,53.12h2.2M434.37,58.15h2.2M438.18,54.04V57.79M437.08,54.04h2.2M437.08,57.79h2.2M440.89,52.92V57.27M439.79,52.92h2.2M439.79,57.27h2.2M443.60,51.13V56.20M442.50,51.13h2.2M442.50,56.20h2.2M446.31,50.28V54.86M445.21,50.28h2.2M445.21,54.86h2.2M449.02,52.21V57.32M447.92,52.21h2.2M447.92,57.32h2.2M451.73,51.59V56.28M450.63,51.59h2.2M450.63,56.28h2.2M454.44,51.31V54.62M453.34,51.31h2.2M453.34,54.62h2.2M457.15,49.45V54.57M456.05,49.45h2.2M456.05,54.57h2.2M459.86,48.93V53.45M458.76,48.93h2.2M458.76,53.45h2.2M462.57,48.71V52.65M461.47,48.71h2.2M461.47,52.65h2.2M465.28,47.76V51.46M464.18,47.76h2.2M464.18,51.46h2.2M467.99,45.40V50.57M466.89,45.40h2.2M466.89,50.57h2.2M470.70,43.49V48.11M469.60,43.49h2.2M469.60,48.11h2.2M473.41,41.26V46.69M472.31,41.26h2.2M472.31,46.69h2.2M476.12,40.79V45.89M475.02,40.79h2.2M475.02,45.89h2.2M478.83,42.77V48.32M477.73,42.77h2.2M477.73,48.32h2.2M481.54,42.25V46.93M480.44,42.25h2.2M480.44,46.93h2.2M484.25,41.17V46.18M483.15,41.17h2.2M483.15,46.18h2.2M486.96,39.90V44.74M485.86,39.90h2.2M485.86,44.74h2.2M489.67,38.95V43.00M488.57,38.95h2.2M488.57,43.00h2.2M492.38,37.16V42.86M491.28,37.16h2.2M491.28,42.86h2.2M495.09,37.50V41.73M493.99,37.50h2.2M493.99,41.73h2.2M497.80,36.93V42.27M496.70,36.93h2.2M496.70,42.27h2.2M500.51,37.96V43.75M499.41,37.96h2.2M499.41,43.75h2.2M503.22,39.23V44.33M502.12,39.23h2.2M502.12,44.33h2.2M505.93,41.05V44.96M504.83,41.05h2.2M504.83,44.96h2.2M508.64,41.72V47.29M507.54,41.72h2.2M507.54,47.29h2.2M511.35,43.39V48.62M510.25,43.39h2.2M510.25,48.62h2.2M514.06,44.83V48.92M512.96,44.83h2.2M512.96,48.92h2.2M516.77,45.50V49.28M515.67,45.50h2.2M515.67,49.28h2.2M519.48,44.37V49.35M518.38,44.37h2.2M518.38,49.35h2.2M522.19,43.83V47.61M521.09,43.83h2.2M521.09,47.61h2.2M524.90,40.32V46.32M523.80,40.32h2.2M523.80,46.32h2.2M527.61,37.91V42.91M526.51,37.91h2.2M526.51,42.91h2.2M530.32,40.28V45.32M529.22,40.28h2.2M529.22,45.32h2.2" stroke="#8b0000" stroke-width="0.5" fill="none"/>
<path d="M408.37,57.39 L411.08,58.47 L413.79,59.61 L416.50,57.82 L419.21,53.72 L421.92,52.48 L424.63,54.73 L427.34,56.76 L430.05,57.16 L432.76,55.24 L435.47,55.64 L438.18,55.91 L440.89,55.09 L443.60,53.66 L446.31,52.57 L449.02,54.76 L451.73,53.94 L454.44,52.97 L457.15,52.01 L459.86,51.19 L462.57,50.68 L465.28,49.61 L467.99,47.98 L470.70,45.80 L473.41,43.97 L476.12,43.34 L478.83,45.55 L481.54,44.59 L484.25,43.68 L486.96,42.32 L489.67,40.98 L492.38,40.01 L495.09,39.62 L497.80,39.60 L500.51,40.85 L503.22,41.78 L505.93,43.01 L508.64,44.51 L511.35,46.01 L514.06,46.88 L516.77,47.39 L519.48,46.86 L522.19,45.72 L524.90,43.32 L527.61,40.41 L530.32,42.80" fill="none" stroke="#8b0000" stroke-width="1.4"/>
<circle cx="408.37" cy="57.39" r="1.95" fill="#8b0000"/>
<circle cx="411.08" cy="58.47" r="1.95" fill="#8b0000"/>
<circle cx="413.79" cy="59.61" r="1.95" fill="#8b0000"/>
<circle cx="416.50" cy="57.82" r="1.95" fill="#8b0000"/>
<circle cx="419.21" cy="53.72" r="1.95" fill="#8b0000"/>
<circle cx="421.92" cy="52.48" r="1.95" fill="#8b0000"/>
<circle cx="424.63" cy="54.73" r="1.95" fill="#8b0000"/>
<circle cx="427.34" cy="56.76" r="1.95" fill="#8b0000"/>
<circle cx="430.05" cy="57.16" r="1.95" fill="#8b0000"/>
<circle cx="432.76" cy="55.24" r="1.95" fill="#8b0000"/>
<circle cx="435.47" cy="55.64" r="1.95" fill="#8b0000"/>
<circle cx="438.18" cy="55.91" r="1.95" fill="#8b0000"/>
<circle cx="440.89" cy="55.09" r="1.95" fill="#8b0000"/>
<circle cx="443.60" cy="53.66" r="1.95" fill="#8b0000"/>
<circle cx="446.31" cy="52.57" r="1.95" fill="#8b0000"/>
<circle cx="449.02" cy="54.76" r="1.95" fill="#8b0000"/>
<circle cx="451.73" cy="53.94" r="1.95" fill="#8b0000"/>
<circle cx="454.44" cy="52.97" r="1.95" fill="#8b0000"/>
<circle cx="457.15" cy="52.01" r="1.95" fill="#8b0000"/>
<circle cx="459.86" cy="51.19" r="1.95" fill="#8b0000"/>
<circle cx="462.57" cy="50.68" r="1.95" fill="#8b0000"/>
<circle cx="465.28" cy="49.61" r="1.95" fill="#8b0000"/>
<circle cx="467.99" cy="47.98" r="1.95" fill="#8b0000"/>
<circle cx="470.70" cy="45.80" r="1.95" fill="#8b0000"/>
<circle cx="473.41" cy="43.97" r="1.95" fill="#8b0000"/>
<circle cx="476.12" cy="43.34" r="1.95" fill="#8b0000"/>
<circle cx="478.83" cy="45.55" r="1.95" fill="#8b0000"/>
<circle cx="481.54" cy="44.59" r="1.95" fill="#8b0000"/>
<circle cx="484.25" cy="43.68" r="1.95" fill="#8b0000"/>
<circle cx="486.96" cy="42.32" r="1.95" fill="#8b0000"/>
<circle cx="489.67" cy="40.98" r="1.95" fill="#8b0000"/>
<circle cx="492.38" cy="40.01" r="1.95" fill="#8b0000"/>
<circle cx="495.09" cy="39.62" r="1.95" fill="#8b0000"/>
<circle cx="497.80" cy="39.60" r="1.95" fill="#8b0000"/>
<circle cx="500.51" cy="40.85" r="1.95" fill="#8b0000"/>
<circle cx="503.22" cy="41.78" r="1.95" fill="#8b0000"/>
<circle cx="505.93" cy="43.01" r="1.95" fill="#8b0000"/>
<circle cx="508.64" cy="44.51" r="1.95" fill="#8b0000"/>
<circle cx="511.35" cy="46.01" r="1.95" fill="#8b0000"/>
<circle cx="514.06" cy="46.88" r="1.95" fill="#8b0000"/>
<circle cx="516.77" cy="47.39" r="1.95" fill="#8b0000"/>
<circle cx="519.48" cy="46.86" r="1.95" fill="#8b0000"/>
<circle cx="522.19" cy="45.72" r="1.95" fill="#8b0000"/>
<circle cx="524.90" cy="43.32" r="1.95" fill="#8b0000"/>
<circle cx="527.61" cy="40.41" r="1.95" fill="#8b0000"/>
<circle cx="530.32" cy="42.80" r="1.95" fill="#8b0000"/>
<path d="M408.37,60.47V64.78M407.27,60.47h2.2M407.27,64.78h2.2M411.08,59.05V65.11M409.98,59.05h2.2M409.98,65.11h2.2M413.79,58.05V64.33M412.69,58.05h2.2M412.69,64.33h2.2M416.50,57.31V63.48M415.40,57.31h2.2M415.40,63.48h2.2M419.21,56.83V62.49M418.11,56.83h2.2M418.11,62.49h2.2M421.92,55.14V63.10M420.82,55.14h2.2M420.82,63.10h2.2M424.63,57.13V65.55M423.53,57.13h2.2M423.53,65.55h2.2M427.34,55.26V62.96M426.24,55.26h2.2M426.24,62.96h2.2M430.05,54.37V62.40M428.95,54.37h2.2M428.95,62.40h2.2M432.76,55.31V62.74M431.66,55.31h2.2M431.66,62.74h2.2M435.47,58.68V65.51M434.37,58.68h2.2M434.37,65.51h2.2M438.18,56.66V65.68M437.08,56.66h2.2M437.08,65.68h2.2M440.89,54.23V64.66M439.79,54.23h2.2M439.79,64.66h2.2M443.60,54.83V62.68M442.50,54.83h2.2M442.50,62.68h2.2M446.31,52.94V64.41M445.21,52.94h2.2M445.21,64.41h2.2M449.02,53.51V62.17M447.92,53.51h2.2M447.92,62.17h2.2M451.73,54.14V62.80M450.63,54.14h2.2M450.63,62.80h2.2M454.44,55.43V63.14M453.34,55.43h2.2M453.34,63.14h2.2M457.15,53.35V65.84M456.05,53.35h2.2M456.05,65.84h2.2M459.86,54.13V65.33M458.76,54.13h2.2M458.76,65.33h2.2M462.57,54.26V66.14M461.47,54.26h2.2M461.47,66.14h2.2M465.28,55.69V66.26M464.18,55.69h2.2M464.18,66.26h2.2M467.99,57.49V65.16M466.89,57.49h2.2M466.89,65.16h2.2M470.70,56.25V65.40M469.60,56.25h2.2M469.60,65.40h2.2M473.41,55.13V65.12M472.31,55.13h2.2M472.31,65.12h2.2M476.12,54.80V62.88M475.02,54.80h2.2M475.02,62.88h2.2M478.83,52.32V64.58M477.73,52.32h2.2M477.73,64.58h2.2M481.54,53.46V62.81M480.44,53.46h2.2M480.44,62.81h2.2M484.25,54.41V62.68M483.15,54.41h2.2M483.15,62.68h2.2M486.96,53.11V64.70M485.86,53.11h2.2M485.86,64.70h2.2M489.67,54.85V62.97M488.57,54.85h2.2M488.57,62.97h2.2M492.38,52.59V64.73M491.28,52.59h2.2M491.28,64.73h2.2M495.09,53.29V63.06M493.99,53.29h2.2M493.99,63.06h2.2M497.80,53.69V63.95M496.70,53.69h2.2M496.70,63.95h2.2M500.51,54.62V63.83M499.41,54.62h2.2M499.41,63.83h2.2M503.22,53.48V63.40M502.12,53.48h2.2M502.12,63.40h2.2M505.93,54.48V62.91M504.83,54.48h2.2M504.83,62.91h2.2M508.64,55.73V63.42M507.54,55.73h2.2M507.54,63.42h2.2M511.35,52.76V64.59M510.25,52.76h2.2M510.25,64.59h2.2M514.06,54.32V62.99M512.96,54.32h2.2M512.96,62.99h2.2M516.77,53.27V64.67M515.67,53.27h2.2M515.67,64.67h2.2M519.48,54.83V63.37M518.38,54.83h2.2M518.38,63.37h2.2M522.19,52.78V65.12M521.09,52.78h2.2M521.09,65.12h2.2M524.90,53.66V65.63M523.80,53.66h2.2M523.80,65.63h2.2M527.61,54.45V65.72M526.51,54.45h2.2M526.51,65.72h2.2M530.32,54.15V65.46M529.22,54.15h2.2M529.22,65.46h2.2" stroke="#8b0000" stroke-width="0.5" fill="none"/>
<path d="M408.37,62.63 L411.08,62.08 L413.79,61.19 L416.50,60.39 L419.21,59.66 L421.92,59.12 L424.63,61.34 L427.34,59.11 L430.05,58.38 L432.76,59.03 L435.47,62.09 L438.18,61.17 L440.89,59.45 L443.60,58.76 L446.31,58.68 L449.02,57.84 L451.73,58.47 L454.44,59.28 L457.15,59.60 L459.86,59.73 L462.57,60.20 L465.28,60.98 L467.99,61.33 L470.70,60.82 L473.41,60.13 L476.12,58.84 L478.83,58.45 L481.54,58.14 L484.25,58.55 L486.96,58.91 L489.67,58.91 L492.38,58.66 L495.09,58.18 L497.80,58.82 L500.51,59.23 L503.22,58.44 L505.93,58.69 L508.64,59.57 L511.35,58.67 L514.06,58.65 L516.77,58.97 L519.48,59.10 L522.19,58.95 L524.90,59.65 L527.61,60.08 L530.32,59.81" fill="none" stroke="#8b0000" stroke-width="0.8"/>
<circle cx="408.37" cy="62.63" r="1.68" fill="#fff" stroke="#8b0000" stroke-width="0.65"/>
<circle cx="411.08" cy="62.08" r="1.68" fill="#fff" stroke="#8b0000" stroke-width="0.65"/>
<circle cx="413.79" cy="61.19" r="1.68" fill="#fff" stroke="#8b0000" stroke-width="0.65"/>
<circle cx="416.50" cy="60.39" r="1.68" fill="#fff" stroke="#8b0000" stroke-width="0.65"/>
<circle cx="419.21" cy="59.66" r="1.68" fill="#fff" stroke="#8b0000" stroke-width="0.65"/>
<circle cx="421.92" cy="59.12" r="1.68" fill="#fff" stroke="#8b0000" stroke-width="0.65"/>
<circle cx="424.63" cy="61.34" r="1.68" fill="#fff" stroke="#8b0000" stroke-width="0.65"/>
<circle cx="427.34" cy="59.11" r="1.68" fill="#fff" stroke="#8b0000" stroke-width="0.65"/>
<circle cx="430.05" cy="58.38" r="1.68" fill="#fff" stroke="#8b0000" stroke-width="0.65"/>
<circle cx="432.76" cy="59.03" r="1.68" fill="#fff" stroke="#8b0000" stroke-width="0.65"/>
<circle cx="435.47" cy="62.09" r="1.68" fill="#fff" stroke="#8b0000" stroke-width="0.65"/>
<circle cx="438.18" cy="61.17" r="1.68" fill="#fff" stroke="#8b0000" stroke-width="0.65"/>
<circle cx="440.89" cy="59.45" r="1.68" fill="#fff" stroke="#8b0000" stroke-width="0.65"/>
<circle cx="443.60" cy="58.76" r="1.68" fill="#fff" stroke="#8b0000" stroke-width="0.65"/>
<circle cx="446.31" cy="58.68" r="1.68" fill="#fff" stroke="#8b0000" stroke-width="0.65"/>
<circle cx="449.02" cy="57.84" r="1.68" fill="#fff" stroke="#8b0000" stroke-width="0.65"/>
<circle cx="451.73" cy="58.47" r="1.68" fill="#fff" stroke="#8b0000" stroke-width="0.65"/>
<circle cx="454.44" cy="59.28" r="1.68" fill="#fff" stroke="#8b0000" stroke-width="0.65"/>
<circle cx="457.15" cy="59.60" r="1.68" fill="#fff" stroke="#8b0000" stroke-width="0.65"/>
<circle cx="459.86" cy="59.73" r="1.68" fill="#fff" stroke="#8b0000" stroke-width="0.65"/>
<circle cx="462.57" cy="60.20" r="1.68" fill="#fff" stroke="#8b0000" stroke-width="0.65"/>
<circle cx="465.28" cy="60.98" r="1.68" fill="#fff" stroke="#8b0000" stroke-width="0.65"/>
<circle cx="467.99" cy="61.33" r="1.68" fill="#fff" stroke="#8b0000" stroke-width="0.65"/>
<circle cx="470.70" cy="60.82" r="1.68" fill="#fff" stroke="#8b0000" stroke-width="0.65"/>
<circle cx="473.41" cy="60.13" r="1.68" fill="#fff" stroke="#8b0000" stroke-width="0.65"/>
<circle cx="476.12" cy="58.84" r="1.68" fill="#fff" stroke="#8b0000" stroke-width="0.65"/>
<circle cx="478.83" cy="58.45" r="1.68" fill="#fff" stroke="#8b0000" stroke-width="0.65"/>
<circle cx="481.54" cy="58.14" r="1.68" fill="#fff" stroke="#8b0000" stroke-width="0.65"/>
<circle cx="484.25" cy="58.55" r="1.68" fill="#fff" stroke="#8b0000" stroke-width="0.65"/>
<circle cx="486.96" cy="58.91" r="1.68" fill="#fff" stroke="#8b0000" stroke-width="0.65"/>
<circle cx="489.67" cy="58.91" r="1.68" fill="#fff" stroke="#8b0000" stroke-width="0.65"/>
<circle cx="492.38" cy="58.66" r="1.68" fill="#fff" stroke="#8b0000" stroke-width="0.65"/>
<circle cx="495.09" cy="58.18" r="1.68" fill="#fff" stroke="#8b0000" stroke-width="0.65"/>
<circle cx="497.80" cy="58.82" r="1.68" fill="#fff" stroke="#8b0000" stroke-width="0.65"/>
<circle cx="500.51" cy="59.23" r="1.68" fill="#fff" stroke="#8b0000" stroke-width="0.65"/>
<circle cx="503.22" cy="58.44" r="1.68" fill="#fff" stroke="#8b0000" stroke-width="0.65"/>
<circle cx="505.93" cy="58.69" r="1.68" fill="#fff" stroke="#8b0000" stroke-width="0.65"/>
<circle cx="508.64" cy="59.57" r="1.68" fill="#fff" stroke="#8b0000" stroke-width="0.65"/>
<circle cx="511.35" cy="58.67" r="1.68" fill="#fff" stroke="#8b0000" stroke-width="0.65"/>
<circle cx="514.06" cy="58.65" r="1.68" fill="#fff" stroke="#8b0000" stroke-width="0.65"/>
<circle cx="516.77" cy="58.97" r="1.68" fill="#fff" stroke="#8b0000" stroke-width="0.65"/>
<circle cx="519.48" cy="59.10" r="1.68" fill="#fff" stroke="#8b0000" stroke-width="0.65"/>
<circle cx="522.19" cy="58.95" r="1.68" fill="#fff" stroke="#8b0000" stroke-width="0.65"/>
<circle cx="524.90" cy="59.65" r="1.68" fill="#fff" stroke="#8b0000" stroke-width="0.65"/>
<circle cx="527.61" cy="60.08" r="1.68" fill="#fff" stroke="#8b0000" stroke-width="0.65"/>
<circle cx="530.32" cy="59.81" r="1.68" fill="#fff" stroke="#8b0000" stroke-width="0.65"/>
<path d="M408.37,140.46V147.76M407.27,140.46h2.2M407.27,147.76h2.2M411.08,138.69V146.11M409.98,138.69h2.2M409.98,146.11h2.2M413.79,139.44V146.75M412.69,139.44h2.2M412.69,146.75h2.2M416.50,143.17V148.04M415.40,143.17h2.2M415.40,148.04h2.2M419.21,146.98V153.47M418.11,146.98h2.2M418.11,153.47h2.2M421.92,146.69V152.69M420.82,146.69h2.2M420.82,152.69h2.2M424.63,148.21V154.59M423.53,148.21h2.2M423.53,154.59h2.2M427.34,147.41V152.57M426.24,147.41h2.2M426.24,152.57h2.2M430.05,148.53V153.92M428.95,148.53h2.2M428.95,153.92h2.2M432.76,146.84V153.08M431.66,146.84h2.2M431.66,153.08h2.2M435.47,144.79V150.35M434.37,144.79h2.2M434.37,150.35h2.2M438.18,140.68V147.04M437.08,140.68h2.2M437.08,147.04h2.2M440.89,140.33V145.32M439.79,140.33h2.2M439.79,145.32h2.2M443.60,142.29V147.52M442.50,142.29h2.2M442.50,147.52h2.2M446.31,144.38V151.71M445.21,144.38h2.2M445.21,151.71h2.2M449.02,146.26V152.68M447.92,146.26h2.2M447.92,152.68h2.2M451.73,147.05V153.82M450.63,147.05h2.2M450.63,153.82h2.2M454.44,146.09V153.66M453.34,146.09h2.2M453.34,153.66h2.2M457.15,146.43V152.76M456.05,146.43h2.2M456.05,152.76h2.2M459.86,145.74V151.08M458.76,145.74h2.2M458.76,151.08h2.2M462.57,143.58V151.46M461.47,143.58h2.2M461.47,151.46h2.2M465.28,142.02V149.28M464.18,142.02h2.2M464.18,149.28h2.2M467.99,140.73V148.27M466.89,140.73h2.2M466.89,148.27h2.2M470.70,140.75V148.21M469.60,140.75h2.2M469.60,148.21h2.2M473.41,139.90V148.64M472.31,139.90h2.2M472.31,148.64h2.2M476.12,142.28V148.92M475.02,142.28h2.2M475.02,148.92h2.2M478.83,141.72V149.82M477.73,141.72h2.2M477.73,149.82h2.2M481.54,142.54V149.28M480.44,142.54h2.2M480.44,149.28h2.2M484.25,142.88V150.40M483.15,142.88h2.2M483.15,150.40h2.2M486.96,143.28V151.17M485.86,143.28h2.2M485.86,151.17h2.2M489.67,144.50V151.16M488.57,144.50h2.2M488.57,151.16h2.2M492.38,145.87V151.72M491.28,145.87h2.2M491.28,151.72h2.2M495.09,144.78V152.12M493.99,144.78h2.2M493.99,152.12h2.2M497.80,142.51V150.80M496.70,142.51h2.2M496.70,150.80h2.2M500.51,140.22V148.08M499.41,140.22h2.2M499.41,148.08h2.2M503.22,139.59V146.95M502.12,139.59h2.2M502.12,146.95h2.2M505.93,139.13V147.28M504.83,139.13h2.2M504.83,147.28h2.2M508.64,142.02V148.46M507.54,142.02h2.2M507.54,148.46h2.2M511.35,145.13V151.59M510.25,145.13h2.2M510.25,151.59h2.2M514.06,146.86V153.92M512.96,146.86h2.2M512.96,153.92h2.2M516.77,145.76V154.78M515.67,145.76h2.2M515.67,154.78h2.2M519.48,145.32V151.96M518.38,145.32h2.2M518.38,151.96h2.2M522.19,144.86V151.21M521.09,144.86h2.2M521.09,151.21h2.2M524.90,144.19V150.52M523.80,144.19h2.2M523.80,150.52h2.2M527.61,143.82V149.95M526.51,143.82h2.2M526.51,149.95h2.2M530.32,143.52V150.62M529.22,143.52h2.2M529.22,150.62h2.2" stroke="#8b0000" stroke-width="0.5" fill="none"/>
<path d="M408.37,144.11 L411.08,142.40 L413.79,143.09 L416.50,145.61 L419.21,150.23 L421.92,149.69 L424.63,151.40 L427.34,149.99 L430.05,151.23 L432.76,149.96 L435.47,147.57 L438.18,143.86 L440.89,142.82 L443.60,144.90 L446.31,148.05 L449.02,149.47 L451.73,150.43 L454.44,149.88 L457.15,149.60 L459.86,148.41 L462.57,147.52 L465.28,145.65 L467.99,144.50 L470.70,144.48 L473.41,144.27 L476.12,145.60 L478.83,145.77 L481.54,145.91 L484.25,146.64 L486.96,147.23 L489.67,147.83 L492.38,148.80 L495.09,148.45 L497.80,146.65 L500.51,144.15 L503.22,143.27 L505.93,143.21 L508.64,145.24 L511.35,148.36 L514.06,150.39 L516.77,150.27 L519.48,148.64 L522.19,148.04 L524.90,147.36 L527.61,146.89 L530.32,147.07" fill="none" stroke="#8b0000" stroke-width="0.8"/>
<circle cx="408.37" cy="144.11" r="1.68" fill="#fff" stroke="#8b0000" stroke-width="0.65"/>
<circle cx="411.08" cy="142.40" r="1.68" fill="#fff" stroke="#8b0000" stroke-width="0.65"/>
<circle cx="413.79" cy="143.09" r="1.68" fill="#fff" stroke="#8b0000" stroke-width="0.65"/>
<circle cx="416.50" cy="145.61" r="1.68" fill="#fff" stroke="#8b0000" stroke-width="0.65"/>
<circle cx="419.21" cy="150.23" r="1.68" fill="#fff" stroke="#8b0000" stroke-width="0.65"/>
<circle cx="421.92" cy="149.69" r="1.68" fill="#fff" stroke="#8b0000" stroke-width="0.65"/>
<circle cx="424.63" cy="151.40" r="1.68" fill="#fff" stroke="#8b0000" stroke-width="0.65"/>
<circle cx="427.34" cy="149.99" r="1.68" fill="#fff" stroke="#8b0000" stroke-width="0.65"/>
<circle cx="430.05" cy="151.23" r="1.68" fill="#fff" stroke="#8b0000" stroke-width="0.65"/>
<circle cx="432.76" cy="149.96" r="1.68" fill="#fff" stroke="#8b0000" stroke-width="0.65"/>
<circle cx="435.47" cy="147.57" r="1.68" fill="#fff" stroke="#8b0000" stroke-width="0.65"/>
<circle cx="438.18" cy="143.86" r="1.68" fill="#fff" stroke="#8b0000" stroke-width="0.65"/>
<circle cx="440.89" cy="142.82" r="1.68" fill="#fff" stroke="#8b0000" stroke-width="0.65"/>
<circle cx="443.60" cy="144.90" r="1.68" fill="#fff" stroke="#8b0000" stroke-width="0.65"/>
<circle cx="446.31" cy="148.05" r="1.68" fill="#fff" stroke="#8b0000" stroke-width="0.65"/>
<circle cx="449.02" cy="149.47" r="1.68" fill="#fff" stroke="#8b0000" stroke-width="0.65"/>
<circle cx="451.73" cy="150.43" r="1.68" fill="#fff" stroke="#8b0000" stroke-width="0.65"/>
<circle cx="454.44" cy="149.88" r="1.68" fill="#fff" stroke="#8b0000" stroke-width="0.65"/>
<circle cx="457.15" cy="149.60" r="1.68" fill="#fff" stroke="#8b0000" stroke-width="0.65"/>
<circle cx="459.86" cy="148.41" r="1.68" fill="#fff" stroke="#8b0000" stroke-width="0.65"/>
<circle cx="462.57" cy="147.52" r="1.68" fill="#fff" stroke="#8b0000" stroke-width="0.65"/>
<circle cx="465.28" cy="145.65" r="1.68" fill="#fff" stroke="#8b0000" stroke-width="0.65"/>
<circle cx="467.99" cy="144.50" r="1.68" fill="#fff" stroke="#8b0000" stroke-width="0.65"/>
<circle cx="470.70" cy="144.48" r="1.68" fill="#fff" stroke="#8b0000" stroke-width="0.65"/>
<circle cx="473.41" cy="144.27" r="1.68" fill="#fff" stroke="#8b0000" stroke-width="0.65"/>
<circle cx="476.12" cy="145.60" r="1.68" fill="#fff" stroke="#8b0000" stroke-width="0.65"/>
<circle cx="478.83" cy="145.77" r="1.68" fill="#fff" stroke="#8b0000" stroke-width="0.65"/>
<circle cx="481.54" cy="145.91" r="1.68" fill="#fff" stroke="#8b0000" stroke-width="0.65"/>
<circle cx="484.25" cy="146.64" r="1.68" fill="#fff" stroke="#8b0000" stroke-width="0.65"/>
<circle cx="486.96" cy="147.23" r="1.68" fill="#fff" stroke="#8b0000" stroke-width="0.65"/>
<circle cx="489.67" cy="147.83" r="1.68" fill="#fff" stroke="#8b0000" stroke-width="0.65"/>
<circle cx="492.38" cy="148.80" r="1.68" fill="#fff" stroke="#8b0000" stroke-width="0.65"/>
<circle cx="495.09" cy="148.45" r="1.68" fill="#fff" stroke="#8b0000" stroke-width="0.65"/>
<circle cx="497.80" cy="146.65" r="1.68" fill="#fff" stroke="#8b0000" stroke-width="0.65"/>
<circle cx="500.51" cy="144.15" r="1.68" fill="#fff" stroke="#8b0000" stroke-width="0.65"/>
<circle cx="503.22" cy="143.27" r="1.68" fill="#fff" stroke="#8b0000" stroke-width="0.65"/>
<circle cx="505.93" cy="143.21" r="1.68" fill="#fff" stroke="#8b0000" stroke-width="0.65"/>
<circle cx="508.64" cy="145.24" r="1.68" fill="#fff" stroke="#8b0000" stroke-width="0.65"/>
<circle cx="511.35" cy="148.36" r="1.68" fill="#fff" stroke="#8b0000" stroke-width="0.65"/>
<circle cx="514.06" cy="150.39" r="1.68" fill="#fff" stroke="#8b0000" stroke-width="0.65"/>
<circle cx="516.77" cy="150.27" r="1.68" fill="#fff" stroke="#8b0000" stroke-width="0.65"/>
<circle cx="519.48" cy="148.64" r="1.68" fill="#fff" stroke="#8b0000" stroke-width="0.65"/>
<circle cx="522.19" cy="148.04" r="1.68" fill="#fff" stroke="#8b0000" stroke-width="0.65"/>
<circle cx="524.90" cy="147.36" r="1.68" fill="#fff" stroke="#8b0000" stroke-width="0.65"/>
<circle cx="527.61" cy="146.89" r="1.68" fill="#fff" stroke="#8b0000" stroke-width="0.65"/>
<circle cx="530.32" cy="147.07" r="1.68" fill="#fff" stroke="#8b0000" stroke-width="0.65"/>
<path d="M408.37,149.52V156.32M407.27,149.52h2.2M407.27,156.32h2.2M411.08,146.05V153.60M409.98,146.05h2.2M409.98,153.60h2.2M413.79,145.61V151.30M412.69,145.61h2.2M412.69,151.30h2.2M416.50,143.09V151.91M415.40,143.09h2.2M415.40,151.91h2.2M419.21,143.91V150.15M418.11,143.91h2.2M418.11,150.15h2.2M421.92,143.21V151.52M420.82,143.21h2.2M420.82,151.52h2.2M424.63,143.27V149.60M423.53,143.27h2.2M423.53,149.60h2.2M427.34,134.43V146.63M426.24,134.43h2.2M426.24,146.63h2.2M430.05,135.60V147.16M428.95,135.60h2.2M428.95,147.16h2.2M432.76,129.33V144.77M431.66,129.33h2.2M431.66,144.77h2.2M435.47,128.34V143.91M434.37,128.34h2.2M434.37,143.91h2.2M438.18,125.29V141.15M437.08,125.29h2.2M437.08,141.15h2.2M440.89,126.41V139.99M439.79,126.41h2.2M439.79,139.99h2.2M443.60,125.17V141.73M442.50,125.17h2.2M442.50,141.73h2.2M446.31,124.99V142.41M445.21,124.99h2.2M445.21,142.41h2.2M449.02,128.05V139.35M447.92,128.05h2.2M447.92,139.35h2.2M451.73,127.57V141.69M450.63,127.57h2.2M450.63,141.69h2.2M454.44,127.59V144.79M453.34,127.59h2.2M453.34,144.79h2.2M457.15,130.44V146.12M456.05,130.44h2.2M456.05,146.12h2.2M459.86,133.78V147.39M458.76,133.78h2.2M458.76,147.39h2.2M462.57,133.10V145.73M461.47,133.10h2.2M461.47,145.73h2.2M465.28,129.03V146.20M464.18,129.03h2.2M464.18,146.20h2.2M467.99,129.60V140.69M466.89,129.60h2.2M466.89,140.69h2.2M470.70,128.63V144.37M469.60,128.63h2.2M469.60,144.37h2.2M473.41,131.02V147.02M472.31,131.02h2.2M472.31,147.02h2.2M476.12,133.94V145.03M475.02,133.94h2.2M475.02,145.03h2.2M478.83,133.51V145.49M477.73,133.51h2.2M477.73,145.49h2.2M481.54,134.81V146.40M480.44,134.81h2.2M480.44,146.40h2.2M484.25,134.96V147.80M483.15,134.96h2.2M483.15,147.80h2.2M486.96,137.22V148.70M485.86,137.22h2.2M485.86,148.70h2.2M489.67,138.47V152.87M488.57,138.47h2.2M488.57,152.87h2.2M492.38,141.05V155.34M491.28,141.05h2.2M491.28,155.34h2.2M495.09,144.88V155.35M493.99,144.88h2.2M493.99,155.35h2.2M497.80,146.40V159.92M496.70,146.40h2.2M496.70,159.92h2.2M500.51,150.02V158.69M499.41,150.02h2.2M499.41,158.69h2.2M503.22,151.27V159.89M502.12,151.27h2.2M502.12,159.89h2.2M505.93,151.71V163.14M504.83,151.71h2.2M504.83,163.14h2.2M508.64,153.57V165.42M507.54,153.57h2.2M507.54,165.42h2.2M511.35,154.77V166.43M510.25,154.77h2.2M510.25,166.43h2.2M514.06,153.21V164.39M512.96,153.21h2.2M512.96,164.39h2.2M516.77,144.21V153.19M515.67,144.21h2.2M515.67,153.19h2.2M519.48,138.74V144.26M518.38,138.74h2.2M518.38,144.26h2.2M522.19,129.14V135.86M521.09,129.14h2.2M521.09,135.86h2.2M524.90,125.96V133.24M523.80,125.96h2.2M523.80,133.24h2.2M527.61,126.61V131.39M526.51,126.61h2.2M526.51,131.39h2.2M530.32,124.81V130.79M529.22,124.81h2.2M529.22,130.79h2.2" stroke="#8b0000" stroke-width="0.5" fill="none"/>
<path d="M408.37,152.92 L411.08,149.82 L413.79,148.45 L416.50,147.50 L419.21,147.03 L421.92,147.36 L424.63,146.43 L427.34,140.53 L430.05,141.38 L432.76,137.05 L435.47,136.12 L438.18,133.22 L440.89,133.20 L443.60,133.45 L446.31,133.70 L449.02,133.70 L451.73,134.63 L454.44,136.19 L457.15,138.28 L459.86,140.58 L462.57,139.42 L465.28,137.62 L467.99,135.15 L470.70,136.50 L473.41,139.02 L476.12,139.49 L478.83,139.50 L481.54,140.60 L484.25,141.38 L486.96,142.96 L489.67,145.67 L492.38,148.19 L495.09,150.11 L497.80,153.16 L500.51,154.36 L503.22,155.58 L505.93,157.42 L508.64,159.50 L511.35,160.60 L514.06,158.80 L516.77,148.70 L519.48,141.50 L522.19,132.50 L524.90,129.60 L527.61,129.00 L530.32,127.80" fill="none" stroke="#8b0000" stroke-width="1.4"/>
<circle cx="408.37" cy="152.92" r="1.95" fill="#8b0000"/>
<circle cx="411.08" cy="149.82" r="1.95" fill="#8b0000"/>
<circle cx="413.79" cy="148.45" r="1.95" fill="#8b0000"/>
<circle cx="416.50" cy="147.50" r="1.95" fill="#8b0000"/>
<circle cx="419.21" cy="147.03" r="1.95" fill="#8b0000"/>
<circle cx="421.92" cy="147.36" r="1.95" fill="#8b0000"/>
<circle cx="424.63" cy="146.43" r="1.95" fill="#8b0000"/>
<circle cx="427.34" cy="140.53" r="1.95" fill="#8b0000"/>
<circle cx="430.05" cy="141.38" r="1.95" fill="#8b0000"/>
<circle cx="432.76" cy="137.05" r="1.95" fill="#8b0000"/>
<circle cx="435.47" cy="136.12" r="1.95" fill="#8b0000"/>
<circle cx="438.18" cy="133.22" r="1.95" fill="#8b0000"/>
<circle cx="440.89" cy="133.20" r="1.95" fill="#8b0000"/>
<circle cx="443.60" cy="133.45" r="1.95" fill="#8b0000"/>
<circle cx="446.31" cy="133.70" r="1.95" fill="#8b0000"/>
<circle cx="449.02" cy="133.70" r="1.95" fill="#8b0000"/>
<circle cx="451.73" cy="134.63" r="1.95" fill="#8b0000"/>
<circle cx="454.44" cy="136.19" r="1.95" fill="#8b0000"/>
<circle cx="457.15" cy="138.28" r="1.95" fill="#8b0000"/>
<circle cx="459.86" cy="140.58" r="1.95" fill="#8b0000"/>
<circle cx="462.57" cy="139.42" r="1.95" fill="#8b0000"/>
<circle cx="465.28" cy="137.62" r="1.95" fill="#8b0000"/>
<circle cx="467.99" cy="135.15" r="1.95" fill="#8b0000"/>
<circle cx="470.70" cy="136.50" r="1.95" fill="#8b0000"/>
<circle cx="473.41" cy="139.02" r="1.95" fill="#8b0000"/>
<circle cx="476.12" cy="139.49" r="1.95" fill="#8b0000"/>
<circle cx="478.83" cy="139.50" r="1.95" fill="#8b0000"/>
<circle cx="481.54" cy="140.60" r="1.95" fill="#8b0000"/>
<circle cx="484.25" cy="141.38" r="1.95" fill="#8b0000"/>
<circle cx="486.96" cy="142.96" r="1.95" fill="#8b0000"/>
<circle cx="489.67" cy="145.67" r="1.95" fill="#8b0000"/>
<circle cx="492.38" cy="148.19" r="1.95" fill="#8b0000"/>
<circle cx="495.09" cy="150.11" r="1.95" fill="#8b0000"/>
<circle cx="497.80" cy="153.16" r="1.95" fill="#8b0000"/>
<circle cx="500.51" cy="154.36" r="1.95" fill="#8b0000"/>
<circle cx="503.22" cy="155.58" r="1.95" fill="#8b0000"/>
<circle cx="505.93" cy="157.42" r="1.95" fill="#8b0000"/>
<circle cx="508.64" cy="159.50" r="1.95" fill="#8b0000"/>
<circle cx="511.35" cy="160.60" r="1.95" fill="#8b0000"/>
<circle cx="514.06" cy="158.80" r="1.95" fill="#8b0000"/>
<circle cx="516.77" cy="148.70" r="1.95" fill="#8b0000"/>
<circle cx="519.48" cy="141.50" r="1.95" fill="#8b0000"/>
<circle cx="522.19" cy="132.50" r="1.95" fill="#8b0000"/>
<circle cx="524.90" cy="129.60" r="1.95" fill="#8b0000"/>
<circle cx="527.61" cy="129.00" r="1.95" fill="#8b0000"/>
<circle cx="530.32" cy="127.80" r="1.95" fill="#8b0000"/>
<line x1="408.3" y1="60.4" x2="530.32" y2="60.4" stroke="#333" stroke-width="1.0" stroke-dasharray="3.6 1.4"/>
<line x1="408.3" y1="145.3" x2="530.32" y2="145.3" stroke="#333" stroke-width="1.0" stroke-dasharray="3.6 1.4"/>
<line x1="407.30" y1="13.70" x2="407.30" y2="90.30" stroke="#808080" stroke-width="1.2" />
<line x1="407.30" y1="14.21" x2="409.90" y2="14.21" stroke="#222" stroke-width="1.0" />
<line x1="407.30" y1="29.44" x2="409.90" y2="29.44" stroke="#222" stroke-width="1.0" />
<line x1="407.30" y1="44.67" x2="409.90" y2="44.67" stroke="#222" stroke-width="1.0" />
<line x1="407.30" y1="59.90" x2="409.90" y2="59.90" stroke="#222" stroke-width="1.0" />
<line x1="407.30" y1="75.13" x2="409.90" y2="75.13" stroke="#222" stroke-width="1.0" />
<line x1="407.30" y1="90.36" x2="409.90" y2="90.36" stroke="#222" stroke-width="1.0" />
<line x1="407.30" y1="90.30" x2="532.50" y2="90.30" stroke="#808080" stroke-width="1.2" />
<line x1="416.50" y1="90.30" x2="416.50" y2="88.30" stroke="#222" stroke-width="1.0" />
<line x1="432.76" y1="90.30" x2="432.76" y2="88.30" stroke="#222" stroke-width="1.0" />
<line x1="449.02" y1="90.30" x2="449.02" y2="88.30" stroke="#222" stroke-width="1.0" />
<line x1="465.28" y1="90.30" x2="465.28" y2="88.30" stroke="#222" stroke-width="1.0" />
<line x1="481.54" y1="90.30" x2="481.54" y2="88.30" stroke="#222" stroke-width="1.0" />
<line x1="497.80" y1="90.30" x2="497.80" y2="88.30" stroke="#222" stroke-width="1.0" />
<line x1="514.06" y1="90.30" x2="514.06" y2="88.30" stroke="#222" stroke-width="1.0" />
<line x1="530.32" y1="90.30" x2="530.32" y2="88.30" stroke="#222" stroke-width="1.0" />
<line x1="407.30" y1="111.10" x2="407.30" y2="178.40" stroke="#808080" stroke-width="1.2" />
<line x1="407.30" y1="116.10" x2="409.90" y2="116.10" stroke="#222" stroke-width="1.0" />
<line x1="407.30" y1="126.10" x2="409.90" y2="126.10" stroke="#222" stroke-width="1.0" />
<line x1="407.30" y1="136.10" x2="409.90" y2="136.10" stroke="#222" stroke-width="1.0" />
<line x1="407.30" y1="146.10" x2="409.90" y2="146.10" stroke="#222" stroke-width="1.0" />
<line x1="407.30" y1="156.10" x2="409.90" y2="156.10" stroke="#222" stroke-width="1.0" />
<line x1="407.30" y1="166.10" x2="409.90" y2="166.10" stroke="#222" stroke-width="1.0" />
<line x1="407.30" y1="176.10" x2="409.90" y2="176.10" stroke="#222" stroke-width="1.0" />
<line x1="407.30" y1="178.40" x2="532.50" y2="178.40" stroke="#808080" stroke-width="1.2" />
<line x1="416.50" y1="178.40" x2="416.50" y2="176.40" stroke="#222" stroke-width="1.0" />
<line x1="432.76" y1="178.40" x2="432.76" y2="176.40" stroke="#222" stroke-width="1.0" />
<line x1="449.02" y1="178.40" x2="449.02" y2="176.40" stroke="#222" stroke-width="1.0" />
<line x1="465.28" y1="178.40" x2="465.28" y2="176.40" stroke="#222" stroke-width="1.0" />
<line x1="481.54" y1="178.40" x2="481.54" y2="176.40" stroke="#222" stroke-width="1.0" />
<line x1="497.80" y1="178.40" x2="497.80" y2="176.40" stroke="#222" stroke-width="1.0" />
<line x1="514.06" y1="178.40" x2="514.06" y2="176.40" stroke="#222" stroke-width="1.0" />
<line x1="530.32" y1="178.40" x2="530.32" y2="176.40" stroke="#222" stroke-width="1.0" />
<text transform="matrix(0.9259,0,0,1,29.936,0)" x="404.0" y="16.51" font-size="6.48" font-weight="bold" text-anchor="end" fill="#000" >1.5</text>
<text transform="matrix(0.9259,0,0,1,29.936,0)" x="404.0" y="31.74" font-size="6.48" font-weight="bold" text-anchor="end" fill="#000" >1.0</text>
<text transform="matrix(0.9259,0,0,1,29.936,0)" x="404.0" y="46.97" font-size="6.48" font-weight="bold" text-anchor="end" fill="#000" >0.5</text>
<text transform="matrix(0.9259,0,0,1,29.936,0)" x="404.0" y="62.2" font-size="6.48" font-weight="bold" text-anchor="end" fill="#000" >0.0</text>
<text transform="matrix(0.9259,0,0,1,29.936,0)" x="404.0" y="77.43" font-size="6.48" font-weight="bold" text-anchor="end" fill="#000" >-0.5</text>
<text transform="matrix(0.9259,0,0,1,29.936,0)" x="404.0" y="92.66" font-size="6.48" font-weight="bold" text-anchor="end" fill="#000" >-1.0</text>
<text transform="matrix(0.9259,0,0,1,29.936,0)" x="404.0" y="118.4" font-size="6.48" font-weight="bold" text-anchor="end" fill="#000" >3</text>
<text transform="matrix(0.9259,0,0,1,29.936,0)" x="404.0" y="128.4" font-size="6.48" font-weight="bold" text-anchor="end" fill="#000" >2</text>
<text transform="matrix(0.9259,0,0,1,29.936,0)" x="404.0" y="138.4" font-size="6.48" font-weight="bold" text-anchor="end" fill="#000" >1</text>
<text transform="matrix(0.9259,0,0,1,29.936,0)" x="404.0" y="148.4" font-size="6.48" font-weight="bold" text-anchor="end" fill="#000" >0</text>
<text transform="matrix(0.9259,0,0,1,29.936,0)" x="404.0" y="158.4" font-size="6.48" font-weight="bold" text-anchor="end" fill="#000" >-1</text>
<text transform="matrix(0.9259,0,0,1,29.936,0)" x="404.0" y="168.4" font-size="6.48" font-weight="bold" text-anchor="end" fill="#000" >-2</text>
<text transform="matrix(0.9259,0,0,1,29.936,0)" x="404.0" y="178.4" font-size="6.48" font-weight="bold" text-anchor="end" fill="#000" >-3</text>
<text transform="matrix(0.9259,0,0,1,30.833,0)" x="416.1" y="186.9" font-size="6.48" font-weight="bold" text-anchor="middle" fill="#000" >0</text>
<text transform="matrix(0.9259,0,0,1,32.038,0)" x="432.36" y="186.9" font-size="6.48" font-weight="bold" text-anchor="middle" fill="#000" >60</text>
<text transform="matrix(0.9259,0,0,1,33.243,0)" x="448.62" y="186.9" font-size="6.48" font-weight="bold" text-anchor="middle" fill="#000" >120</text>
<text transform="matrix(0.9259,0,0,1,34.448,0)" x="464.88" y="186.9" font-size="6.48" font-weight="bold" text-anchor="middle" fill="#000" >180</text>
<text transform="matrix(0.9259,0,0,1,35.652,0)" x="481.14" y="186.9" font-size="6.48" font-weight="bold" text-anchor="middle" fill="#000" >240</text>
<text transform="matrix(0.9259,0,0,1,36.857,0)" x="497.4" y="186.9" font-size="6.48" font-weight="bold" text-anchor="middle" fill="#000" >300</text>
<text transform="matrix(0.9259,0,0,1,38.062,0)" x="513.66" y="186.9" font-size="6.48" font-weight="bold" text-anchor="middle" fill="#000" >360</text>
<text transform="matrix(0.9259,0,0,1,39.267,0)" x="529.92" y="186.9" font-size="6.48" font-weight="bold" text-anchor="middle" fill="#000" >420</text>
<text transform="matrix(0.9259,0,0,1,39.718,0)" x="536.0" y="197.9" font-size="7.13" font-weight="bold" text-anchor="end" fill="#000" >TIME (min)</text>
<text transform="translate(336.0,15.0) scale(0.86,1)" x="0" y="0" font-size="12.3" font-weight="bold">b</text>
<text transform="matrix(0.9259,0,0,1,26.750,0)" y="18.9" font-size="7.96" font-weight="bold"><tspan x="361.00">&#916;T</tspan><tspan x="372.24" dy="2.02" font-size="6.11">C</tspan><tspan x="379.44" dy="-2.02">(</tspan><tspan x="381.94" dy="-3.13" font-size="5.45">O</tspan><tspan x="386.96" dy="3.13">C)</tspan></text>
<text transform="matrix(0.9259,0,0,1,26.239,0)" x="354.10" y="104.1" font-size="7.96" font-weight="bold">&#916;VO<tspan dy="2.22">2</tspan><tspan dy="-2.22"> (ml/kg/min)</tspan></text>
<text transform="matrix(0.9259,0,0,1,30.181,0)" x="407.3" y="10.0" font-size="7.96" font-weight="bold" text-anchor="start" fill="#000" >ICV injection</text>
<text transform="matrix(0.9259,0,0,1,38.006,0)" x="512.9" y="12.7" font-size="7.96" font-weight="bold" text-anchor="start" fill="#a0202a" >TR6</text>
<line x1="536.20" y1="42.50" x2="536.20" y2="59.60" stroke="#2a2a2a" stroke-width="1.0" />
<text x="540.45" y="55.47" font-size="8.0" font-weight="bold" text-anchor="middle" fill="#000" >*</text>
<line x1="422.00" y1="117.30" x2="458.00" y2="117.30" stroke="#444" stroke-width="1.1" />
<text x="439.1" y="118.01" font-size="9.0" font-weight="bold" text-anchor="middle" fill="#000" >*</text>
<rect x="477.8" y="102.7" width="47.20" height="19.60" fill="#fff" stroke="#666" stroke-width="0.8" rx="0.8"/>
<line x1="480.22" y1="109.16" x2="495.98" y2="109.16" stroke="#8b0000" stroke-width="1.3" />
<circle cx="488.20" cy="109.16" r="1.9" fill="#8b0000"/>
<line x1="480.22" y1="117.14" x2="495.98" y2="117.14" stroke="#9a2525" stroke-width="0.9" />
<circle cx="488.20" cy="117.14" r="1.5" fill="#fff" stroke="#9a2525" stroke-width="0.75"/>
<text transform="matrix(0.9259,0,0,1,36.991,0)" x="499.21" y="111.58" font-size="7.20" font-weight="bold" text-anchor="start" fill="#000" >UCN2</text>
<text transform="matrix(0.9259,0,0,1,36.991,0)" x="499.21" y="119.56" font-size="7.20" font-weight="bold" text-anchor="start" fill="#000" >control</text>
<line x1="335.5" y1="212.5" x2="335.5" y2="364.4" stroke="#666" stroke-width="0.9" stroke-dasharray="1.5 1.6"/>
<path d="M328.09,253.10V255.50M326.99,253.10h2.2M326.99,255.50h2.2M330.61,253.00V255.66M329.51,253.00h2.2M329.51,255.66h2.2M333.13,253.54V256.41M332.03,253.54h2.2M332.03,256.41h2.2M335.65,252.69V256.60M334.55,252.69h2.2M334.55,256.60h2.2M338.17,252.07V255.40M337.07,252.07h2.2M337.07,255.40h2.2M340.69,250.78V254.57M339.59,250.78h2.2M339.59,254.57h2.2M343.21,250.18V252.97M342.11,250.18h2.2M342.11,252.97h2.2M345.73,248.61V252.20M344.63,248.61h2.2M344.63,252.20h2.2M348.25,247.51V251.78M347.15,247.51h2.2M347.15,251.78h2.2M350.77,248.28V252.05M349.67,248.28h2.2M349.67,252.05h2.2M353.29,246.63V251.27M352.19,246.63h2.2M352.19,251.27h2.2M355.81,245.39V250.00M354.71,245.39h2.2M354.71,250.00h2.2M358.33,244.44V248.13M357.23,244.44h2.2M357.23,248.13h2.2M360.85,243.20V246.26M359.75,243.20h2.2M359.75,246.26h2.2M363.37,240.70V245.59M362.27,240.70h2.2M362.27,245.59h2.2M365.89,240.32V244.05M364.79,240.32h2.2M364.79,244.05h2.2M368.41,239.53V243.18M367.31,239.53h2.2M367.31,243.18h2.2M370.93,237.95V243.63M369.83,237.95h2.2M369.83,243.63h2.2M373.45,237.47V243.73M372.35,237.47h2.2M372.35,243.73h2.2M375.97,237.12V243.66M374.87,237.12h2.2M374.87,243.66h2.2M378.49,236.07V243.24M377.39,236.07h2.2M377.39,243.24h2.2M381.01,236.39V241.62M379.91,236.39h2.2M379.91,241.62h2.2M383.53,237.35V242.52M382.43,237.35h2.2M382.43,242.52h2.2M386.05,235.93V241.52M384.95,235.93h2.2M384.95,241.52h2.2M388.57,235.47V244.50M387.47,235.47h2.2M387.47,244.50h2.2M391.09,236.94V243.12M389.99,236.94h2.2M389.99,243.12h2.2M393.61,236.83V243.51M392.51,236.83h2.2M392.51,243.51h2.2M396.13,237.24V243.64M395.03,237.24h2.2M395.03,243.64h2.2M398.65,236.71V243.53M397.55,236.71h2.2M397.55,243.53h2.2M401.17,236.15V243.10M400.07,236.15h2.2M400.07,243.10h2.2M403.69,234.63V243.05M402.59,234.63h2.2M402.59,243.05h2.2M406.21,234.22V241.82M405.11,234.22h2.2M405.11,241.82h2.2M408.73,232.89V241.22M407.63,232.89h2.2M407.63,241.22h2.2M411.25,230.40V241.65M410.15,230.40h2.2M410.15,241.65h2.2M413.77,231.15V238.92M412.67,231.15h2.2M412.67,238.92h2.2M416.29,230.86V241.73M415.19,230.86h2.2M415.19,241.73h2.2M418.81,231.96V242.54M417.71,231.96h2.2M417.71,242.54h2.2M421.33,232.90V242.73M420.23,232.90h2.2M420.23,242.73h2.2M423.85,233.06V242.99M422.75,233.06h2.2M422.75,242.99h2.2M426.37,232.32V243.24M425.27,232.32h2.2M425.27,243.24h2.2M428.89,232.24V242.35M427.79,232.24h2.2M427.79,242.35h2.2M431.41,232.99V241.41M430.31,232.99h2.2M430.31,241.41h2.2M433.93,232.71V241.69M432.83,232.71h2.2M432.83,241.69h2.2M436.45,232.64V241.25M435.35,232.64h2.2M435.35,241.25h2.2M438.97,231.91V241.34M437.87,231.91h2.2M437.87,241.34h2.2M441.49,229.73V242.15M440.39,229.73h2.2M440.39,242.15h2.2" stroke="#007f00" stroke-width="0.5" fill="none"/>
<path d="M328.09,254.30 L330.61,254.33 L333.13,254.98 L335.65,254.64 L338.17,253.74 L340.69,252.68 L343.21,251.57 L345.73,250.40 L348.25,249.65 L350.77,250.17 L353.29,248.95 L355.81,247.70 L358.33,246.28 L360.85,244.73 L363.37,243.14 L365.89,242.18 L368.41,241.35 L370.93,240.79 L373.45,240.60 L375.97,240.39 L378.49,239.66 L381.01,239.00 L383.53,239.94 L386.05,238.72 L388.57,239.98 L391.09,240.03 L393.61,240.17 L396.13,240.44 L398.65,240.12 L401.17,239.63 L403.69,238.84 L406.21,238.02 L408.73,237.05 L411.25,236.03 L413.77,235.03 L416.29,236.29 L418.81,237.25 L421.33,237.81 L423.85,238.03 L426.37,237.78 L428.89,237.30 L431.41,237.20 L433.93,237.20 L436.45,236.94 L438.97,236.63 L441.49,235.94" fill="none" stroke="#007f00" stroke-width="1.0"/>
<circle cx="328.09" cy="254.30" r="1.7" fill="#007f00"/>
<circle cx="330.61" cy="254.33" r="1.7" fill="#007f00"/>
<circle cx="333.13" cy="254.98" r="1.7" fill="#007f00"/>
<circle cx="335.65" cy="254.64" r="1.7" fill="#007f00"/>
<circle cx="338.17" cy="253.74" r="1.7" fill="#007f00"/>
<circle cx="340.69" cy="252.68" r="1.7" fill="#007f00"/>
<circle cx="343.21" cy="251.57" r="1.7" fill="#007f00"/>
<circle cx="345.73" cy="250.40" r="1.7" fill="#007f00"/>
<circle cx="348.25" cy="249.65" r="1.7" fill="#007f00"/>
<circle cx="350.77" cy="250.17" r="1.7" fill="#007f00"/>
<circle cx="353.29" cy="248.95" r="1.7" fill="#007f00"/>
<circle cx="355.81" cy="247.70" r="1.7" fill="#007f00"/>
<circle cx="358.33" cy="246.28" r="1.7" fill="#007f00"/>
<circle cx="360.85" cy="244.73" r="1.7" fill="#007f00"/>
<circle cx="363.37" cy="243.14" r="1.7" fill="#007f00"/>
<circle cx="365.89" cy="242.18" r="1.7" fill="#007f00"/>
<circle cx="368.41" cy="241.35" r="1.7" fill="#007f00"/>
<circle cx="370.93" cy="240.79" r="1.7" fill="#007f00"/>
<circle cx="373.45" cy="240.60" r="1.7" fill="#007f00"/>
<circle cx="375.97" cy="240.39" r="1.7" fill="#007f00"/>
<circle cx="378.49" cy="239.66" r="1.7" fill="#007f00"/>
<circle cx="381.01" cy="239.00" r="1.7" fill="#007f00"/>
<circle cx="383.53" cy="239.94" r="1.7" fill="#007f00"/>
<circle cx="386.05" cy="238.72" r="1.7" fill="#007f00"/>
<circle cx="388.57" cy="239.98" r="1.7" fill="#007f00"/>
<circle cx="391.09" cy="240.03" r="1.7" fill="#007f00"/>
<circle cx="393.61" cy="240.17" r="1.7" fill="#007f00"/>
<circle cx="396.13" cy="240.44" r="1.7" fill="#007f00"/>
<circle cx="398.65" cy="240.12" r="1.7" fill="#007f00"/>
<circle cx="401.17" cy="239.63" r="1.7" fill="#007f00"/>
<circle cx="403.69" cy="238.84" r="1.7" fill="#007f00"/>
<circle cx="406.21" cy="238.02" r="1.7" fill="#007f00"/>
<circle cx="408.73" cy="237.05" r="1.7" fill="#007f00"/>
<circle cx="411.25" cy="236.03" r="1.7" fill="#007f00"/>
<circle cx="413.77" cy="235.03" r="1.7" fill="#007f00"/>
<circle cx="416.29" cy="236.29" r="1.7" fill="#007f00"/>
<circle cx="418.81" cy="237.25" r="1.7" fill="#007f00"/>
<circle cx="421.33" cy="237.81" r="1.7" fill="#007f00"/>
<circle cx="423.85" cy="238.03" r="1.7" fill="#007f00"/>
<circle cx="426.37" cy="237.78" r="1.7" fill="#007f00"/>
<circle cx="428.89" cy="237.30" r="1.7" fill="#007f00"/>
<circle cx="431.41" cy="237.20" r="1.7" fill="#007f00"/>
<circle cx="433.93" cy="237.20" r="1.7" fill="#007f00"/>
<circle cx="436.45" cy="236.94" r="1.7" fill="#007f00"/>
<circle cx="438.97" cy="236.63" r="1.7" fill="#007f00"/>
<circle cx="441.49" cy="235.94" r="1.7" fill="#007f00"/>
<path d="M328.09,250.76V253.79M326.99,250.76h2.2M326.99,253.79h2.2M330.61,251.53V254.78M329.51,251.53h2.2M329.51,254.78h2.2M333.13,252.42V256.26M332.03,252.42h2.2M332.03,256.26h2.2M335.65,251.75V256.20M334.55,251.75h2.2M334.55,256.20h2.2M338.17,253.32V256.68M337.07,253.32h2.2M337.07,256.68h2.2M340.69,255.66V258.98M339.59,255.66h2.2M339.59,258.98h2.2M343.21,255.86V259.44M342.11,255.86h2.2M342.11,259.44h2.2M345.73,255.70V260.40M344.63,255.70h2.2M344.63,260.40h2.2M348.25,256.41V259.86M347.15,256.41h2.2M347.15,259.86h2.2M350.77,257.14V261.85M349.67,257.14h2.2M349.67,261.85h2.2M353.29,258.63V263.20M352.19,258.63h2.2M352.19,263.20h2.2M355.81,258.52V262.00M354.71,258.52h2.2M354.71,262.00h2.2M358.33,256.82V261.17M357.23,256.82h2.2M357.23,261.17h2.2M360.85,255.21V259.39M359.75,255.21h2.2M359.75,259.39h2.2M363.37,255.14V259.27M362.27,255.14h2.2M362.27,259.27h2.2M365.89,254.27V259.69M364.79,254.27h2.2M364.79,259.69h2.2M368.41,255.36V258.83M367.31,255.36h2.2M367.31,258.83h2.2M370.93,255.29V258.62M369.83,255.29h2.2M369.83,258.62h2.2M373.45,254.44V259.81M372.35,254.44h2.2M372.35,259.81h2.2M375.97,255.65V259.86M374.87,255.65h2.2M374.87,259.86h2.2M378.49,255.21V258.99M377.39,255.21h2.2M377.39,258.99h2.2M381.01,253.45V257.54M379.91,253.45h2.2M379.91,257.54h2.2M383.53,251.41V255.60M382.43,251.41h2.2M382.43,255.60h2.2M386.05,250.01V255.56M384.95,250.01h2.2M384.95,255.56h2.2M388.57,250.76V254.64M387.47,250.76h2.2M387.47,254.64h2.2M391.09,249.08V252.99M389.99,249.08h2.2M389.99,252.99h2.2M393.61,250.31V255.09M392.51,250.31h2.2M392.51,255.09h2.2M396.13,250.19V254.90M395.03,250.19h2.2M395.03,254.90h2.2M398.65,250.29V255.97M397.55,250.29h2.2M397.55,255.97h2.2M401.17,250.83V256.26M400.07,250.83h2.2M400.07,256.26h2.2M403.69,252.00V256.33M402.59,252.00h2.2M402.59,256.33h2.2M406.21,252.59V256.58M405.11,252.59h2.2M405.11,256.58h2.2M408.73,252.07V257.58M407.63,252.07h2.2M407.63,257.58h2.2M411.25,252.86V258.75M410.15,252.86h2.2M410.15,258.75h2.2M413.77,254.11V257.75M412.67,254.11h2.2M412.67,257.75h2.2M416.29,254.09V259.43M415.19,254.09h2.2M415.19,259.43h2.2M418.81,254.34V260.02M417.71,254.34h2.2M417.71,260.02h2.2M421.33,254.33V259.52M420.23,254.33h2.2M420.23,259.52h2.2M423.85,254.43V258.59M422.75,254.43h2.2M422.75,258.59h2.2M426.37,253.67V259.25M425.27,253.67h2.2M425.27,259.25h2.2M428.89,254.54V259.99M427.79,254.54h2.2M427.79,259.99h2.2M431.41,254.54V258.70M430.31,254.54h2.2M430.31,258.70h2.2M433.93,253.61V258.89M432.83,253.61h2.2M432.83,258.89h2.2M436.45,254.47V258.73M435.35,254.47h2.2M435.35,258.73h2.2M438.97,253.55V257.39M437.87,253.55h2.2M437.87,257.39h2.2M441.49,252.96V257.54M440.39,252.96h2.2M440.39,257.54h2.2" stroke="#3a9a3a" stroke-width="0.5" fill="none"/>
<path d="M328.09,252.27 L330.61,253.15 L333.13,254.34 L335.65,253.98 L338.17,255.00 L340.69,257.32 L343.21,257.65 L345.73,258.05 L348.25,258.14 L350.77,259.50 L353.29,260.92 L355.81,260.26 L358.33,258.99 L360.85,257.30 L363.37,257.20 L365.89,256.98 L368.41,257.10 L370.93,256.95 L373.45,257.13 L375.97,257.75 L378.49,257.10 L381.01,255.50 L383.53,253.51 L386.05,252.79 L388.57,252.70 L391.09,251.03 L393.61,252.70 L396.13,252.54 L398.65,253.13 L401.17,253.55 L403.69,254.16 L406.21,254.58 L408.73,254.82 L411.25,255.80 L413.77,255.93 L416.29,256.76 L418.81,257.18 L421.33,256.92 L423.85,256.51 L426.37,256.46 L428.89,257.26 L431.41,256.62 L433.93,256.25 L436.45,256.60 L438.97,255.47 L441.49,255.25" fill="none" stroke="#3a9a3a" stroke-width="0.8"/>
<circle cx="328.09" cy="252.27" r="1.57" fill="#fff" stroke="#3a9a3a" stroke-width="0.65"/>
<circle cx="330.61" cy="253.15" r="1.57" fill="#fff" stroke="#3a9a3a" stroke-width="0.65"/>
<circle cx="333.13" cy="254.34" r="1.57" fill="#fff" stroke="#3a9a3a" stroke-width="0.65"/>
<circle cx="335.65" cy="253.98" r="1.57" fill="#fff" stroke="#3a9a3a" stroke-width="0.65"/>
<circle cx="338.17" cy="255.00" r="1.57" fill="#fff" stroke="#3a9a3a" stroke-width="0.65"/>
<circle cx="340.69" cy="257.32" r="1.57" fill="#fff" stroke="#3a9a3a" stroke-width="0.65"/>
<circle cx="343.21" cy="257.65" r="1.57" fill="#fff" stroke="#3a9a3a" stroke-width="0.65"/>
<circle cx="345.73" cy="258.05" r="1.57" fill="#fff" stroke="#3a9a3a" stroke-width="0.65"/>
<circle cx="348.25" cy="258.14" r="1.57" fill="#fff" stroke="#3a9a3a" stroke-width="0.65"/>
<circle cx="350.77" cy="259.50" r="1.57" fill="#fff" stroke="#3a9a3a" stroke-width="0.65"/>
<circle cx="353.29" cy="260.92" r="1.57" fill="#fff" stroke="#3a9a3a" stroke-width="0.65"/>
<circle cx="355.81" cy="260.26" r="1.57" fill="#fff" stroke="#3a9a3a" stroke-width="0.65"/>
<circle cx="358.33" cy="258.99" r="1.57" fill="#fff" stroke="#3a9a3a" stroke-width="0.65"/>
<circle cx="360.85" cy="257.30" r="1.57" fill="#fff" stroke="#3a9a3a" stroke-width="0.65"/>
<circle cx="363.37" cy="257.20" r="1.57" fill="#fff" stroke="#3a9a3a" stroke-width="0.65"/>
<circle cx="365.89" cy="256.98" r="1.57" fill="#fff" stroke="#3a9a3a" stroke-width="0.65"/>
<circle cx="368.41" cy="257.10" r="1.57" fill="#fff" stroke="#3a9a3a" stroke-width="0.65"/>
<circle cx="370.93" cy="256.95" r="1.57" fill="#fff" stroke="#3a9a3a" stroke-width="0.65"/>
<circle cx="373.45" cy="257.13" r="1.57" fill="#fff" stroke="#3a9a3a" stroke-width="0.65"/>
<circle cx="375.97" cy="257.75" r="1.57" fill="#fff" stroke="#3a9a3a" stroke-width="0.65"/>
<circle cx="378.49" cy="257.10" r="1.57" fill="#fff" stroke="#3a9a3a" stroke-width="0.65"/>
<circle cx="381.01" cy="255.50" r="1.57" fill="#fff" stroke="#3a9a3a" stroke-width="0.65"/>
<circle cx="383.53" cy="253.51" r="1.57" fill="#fff" stroke="#3a9a3a" stroke-width="0.65"/>
<circle cx="386.05" cy="252.79" r="1.57" fill="#fff" stroke="#3a9a3a" stroke-width="0.65"/>
<circle cx="388.57" cy="252.70" r="1.57" fill="#fff" stroke="#3a9a3a" stroke-width="0.65"/>
<circle cx="391.09" cy="251.03" r="1.57" fill="#fff" stroke="#3a9a3a" stroke-width="0.65"/>
<circle cx="393.61" cy="252.70" r="1.57" fill="#fff" stroke="#3a9a3a" stroke-width="0.65"/>
<circle cx="396.13" cy="252.54" r="1.57" fill="#fff" stroke="#3a9a3a" stroke-width="0.65"/>
<circle cx="398.65" cy="253.13" r="1.57" fill="#fff" stroke="#3a9a3a" stroke-width="0.65"/>
<circle cx="401.17" cy="253.55" r="1.57" fill="#fff" stroke="#3a9a3a" stroke-width="0.65"/>
<circle cx="403.69" cy="254.16" r="1.57" fill="#fff" stroke="#3a9a3a" stroke-width="0.65"/>
<circle cx="406.21" cy="254.58" r="1.57" fill="#fff" stroke="#3a9a3a" stroke-width="0.65"/>
<circle cx="408.73" cy="254.82" r="1.57" fill="#fff" stroke="#3a9a3a" stroke-width="0.65"/>
<circle cx="411.25" cy="255.80" r="1.57" fill="#fff" stroke="#3a9a3a" stroke-width="0.65"/>
<circle cx="413.77" cy="255.93" r="1.57" fill="#fff" stroke="#3a9a3a" stroke-width="0.65"/>
<circle cx="416.29" cy="256.76" r="1.57" fill="#fff" stroke="#3a9a3a" stroke-width="0.65"/>
<circle cx="418.81" cy="257.18" r="1.57" fill="#fff" stroke="#3a9a3a" stroke-width="0.65"/>
<circle cx="421.33" cy="256.92" r="1.57" fill="#fff" stroke="#3a9a3a" stroke-width="0.65"/>
<circle cx="423.85" cy="256.51" r="1.57" fill="#fff" stroke="#3a9a3a" stroke-width="0.65"/>
<circle cx="426.37" cy="256.46" r="1.57" fill="#fff" stroke="#3a9a3a" stroke-width="0.65"/>
<circle cx="428.89" cy="257.26" r="1.57" fill="#fff" stroke="#3a9a3a" stroke-width="0.65"/>
<circle cx="431.41" cy="256.62" r="1.57" fill="#fff" stroke="#3a9a3a" stroke-width="0.65"/>
<circle cx="433.93" cy="256.25" r="1.57" fill="#fff" stroke="#3a9a3a" stroke-width="0.65"/>
<circle cx="436.45" cy="256.60" r="1.57" fill="#fff" stroke="#3a9a3a" stroke-width="0.65"/>
<circle cx="438.97" cy="255.47" r="1.57" fill="#fff" stroke="#3a9a3a" stroke-width="0.65"/>
<circle cx="441.49" cy="255.25" r="1.57" fill="#fff" stroke="#3a9a3a" stroke-width="0.65"/>
<path d="M328.09,330.58V334.31M326.99,330.58h2.2M326.99,334.31h2.2M330.61,330.89V334.74M329.51,330.89h2.2M329.51,334.74h2.2M333.13,331.75V335.95M332.03,331.75h2.2M332.03,335.95h2.2M335.65,333.38V336.61M334.55,333.38h2.2M334.55,336.61h2.2M338.17,332.68V336.60M337.07,332.68h2.2M337.07,336.60h2.2M340.69,332.66V337.03M339.59,332.66h2.2M339.59,337.03h2.2M343.21,332.89V337.30M342.11,332.89h2.2M342.11,337.30h2.2M345.73,333.76V336.85M344.63,333.76h2.2M344.63,336.85h2.2M348.25,333.66V337.61M347.15,333.66h2.2M347.15,337.61h2.2M350.77,333.79V337.69M349.67,333.79h2.2M349.67,337.69h2.2M353.29,334.03V337.72M352.19,334.03h2.2M352.19,337.72h2.2M355.81,333.13V337.69M354.71,333.13h2.2M354.71,337.69h2.2M358.33,332.90V336.66M357.23,332.90h2.2M357.23,336.66h2.2M360.85,332.84V336.46M359.75,332.84h2.2M359.75,336.46h2.2M363.37,331.88V336.43M362.27,331.88h2.2M362.27,336.43h2.2M365.89,332.37V336.36M364.79,332.37h2.2M364.79,336.36h2.2M368.41,331.30V334.67M367.31,331.30h2.2M367.31,334.67h2.2M370.93,330.76V334.16M369.83,330.76h2.2M369.83,334.16h2.2M373.45,330.19V333.94M372.35,330.19h2.2M372.35,333.94h2.2M375.97,330.93V333.86M374.87,330.93h2.2M374.87,333.86h2.2M378.49,331.68V335.66M377.39,331.68h2.2M377.39,335.66h2.2M381.01,331.63V335.86M379.91,331.63h2.2M379.91,335.86h2.2M383.53,332.54V336.20M382.43,332.54h2.2M382.43,336.20h2.2M386.05,332.53V337.00M384.95,332.53h2.2M384.95,337.00h2.2M388.57,331.71V336.34M387.47,331.71h2.2M387.47,336.34h2.2M391.09,332.02V335.95M389.99,332.02h2.2M389.99,335.95h2.2M393.61,331.15V335.33M392.51,331.15h2.2M392.51,335.33h2.2M396.13,331.75V334.86M395.03,331.75h2.2M395.03,334.86h2.2M398.65,332.47V335.46M397.55,332.47h2.2M397.55,335.46h2.2M401.17,331.09V335.87M400.07,331.09h2.2M400.07,335.87h2.2M403.69,332.86V336.31M402.59,332.86h2.2M402.59,336.31h2.2M406.21,332.39V335.71M405.11,332.39h2.2M405.11,335.71h2.2M408.73,332.55V337.20M407.63,332.55h2.2M407.63,337.20h2.2M411.25,332.89V337.27M410.15,332.89h2.2M410.15,337.27h2.2M413.77,332.64V335.80M412.67,332.64h2.2M412.67,335.80h2.2M416.29,332.80V336.36M415.19,332.80h2.2M415.19,336.36h2.2M418.81,332.88V336.30M417.71,332.88h2.2M417.71,336.30h2.2M421.33,332.26V335.74M420.23,332.26h2.2M420.23,335.74h2.2M423.85,332.22V335.18M422.75,332.22h2.2M422.75,335.18h2.2M426.37,331.66V335.65M425.27,331.66h2.2M425.27,335.65h2.2M428.89,331.88V335.45M427.79,331.88h2.2M427.79,335.45h2.2M431.41,331.51V335.26M430.31,331.51h2.2M430.31,335.26h2.2M433.93,331.99V335.34M432.83,331.99h2.2M432.83,335.34h2.2M436.45,331.94V335.15M435.35,331.94h2.2M435.35,335.15h2.2M438.97,331.97V335.02M437.87,331.97h2.2M437.87,335.02h2.2M441.49,330.56V335.31M440.39,330.56h2.2M440.39,335.31h2.2" stroke="#3a9a3a" stroke-width="0.5" fill="none"/>
<path d="M328.09,332.45 L330.61,332.81 L333.13,333.85 L335.65,335.00 L338.17,334.64 L340.69,334.85 L343.21,335.10 L345.73,335.31 L348.25,335.63 L350.77,335.74 L353.29,335.87 L355.81,335.41 L358.33,334.78 L360.85,334.65 L363.37,334.16 L365.89,334.37 L368.41,332.99 L370.93,332.46 L373.45,332.07 L375.97,332.39 L378.49,333.67 L381.01,333.74 L383.53,334.37 L386.05,334.77 L388.57,334.02 L391.09,333.99 L393.61,333.24 L396.13,333.31 L398.65,333.96 L401.17,333.48 L403.69,334.58 L406.21,334.05 L408.73,334.88 L411.25,335.08 L413.77,334.22 L416.29,334.58 L418.81,334.59 L421.33,334.00 L423.85,333.70 L426.37,333.65 L428.89,333.66 L431.41,333.39 L433.93,333.66 L436.45,333.54 L438.97,333.49 L441.49,332.94" fill="none" stroke="#3a9a3a" stroke-width="0.8"/>
<circle cx="328.09" cy="332.45" r="1.57" fill="#fff" stroke="#3a9a3a" stroke-width="0.65"/>
<circle cx="330.61" cy="332.81" r="1.57" fill="#fff" stroke="#3a9a3a" stroke-width="0.65"/>
<circle cx="333.13" cy="333.85" r="1.57" fill="#fff" stroke="#3a9a3a" stroke-width="0.65"/>
<circle cx="335.65" cy="335.00" r="1.57" fill="#fff" stroke="#3a9a3a" stroke-width="0.65"/>
<circle cx="338.17" cy="334.64" r="1.57" fill="#fff" stroke="#3a9a3a" stroke-width="0.65"/>
<circle cx="340.69" cy="334.85" r="1.57" fill="#fff" stroke="#3a9a3a" stroke-width="0.65"/>
<circle cx="343.21" cy="335.10" r="1.57" fill="#fff" stroke="#3a9a3a" stroke-width="0.65"/>
<circle cx="345.73" cy="335.31" r="1.57" fill="#fff" stroke="#3a9a3a" stroke-width="0.65"/>
<circle cx="348.25" cy="335.63" r="1.57" fill="#fff" stroke="#3a9a3a" stroke-width="0.65"/>
<circle cx="350.77" cy="335.74" r="1.57" fill="#fff" stroke="#3a9a3a" stroke-width="0.65"/>
<circle cx="353.29" cy="335.87" r="1.57" fill="#fff" stroke="#3a9a3a" stroke-width="0.65"/>
<circle cx="355.81" cy="335.41" r="1.57" fill="#fff" stroke="#3a9a3a" stroke-width="0.65"/>
<circle cx="358.33" cy="334.78" r="1.57" fill="#fff" stroke="#3a9a3a" stroke-width="0.65"/>
<circle cx="360.85" cy="334.65" r="1.57" fill="#fff" stroke="#3a9a3a" stroke-width="0.65"/>
<circle cx="363.37" cy="334.16" r="1.57" fill="#fff" stroke="#3a9a3a" stroke-width="0.65"/>
<circle cx="365.89" cy="334.37" r="1.57" fill="#fff" stroke="#3a9a3a" stroke-width="0.65"/>
<circle cx="368.41" cy="332.99" r="1.57" fill="#fff" stroke="#3a9a3a" stroke-width="0.65"/>
<circle cx="370.93" cy="332.46" r="1.57" fill="#fff" stroke="#3a9a3a" stroke-width="0.65"/>
<circle cx="373.45" cy="332.07" r="1.57" fill="#fff" stroke="#3a9a3a" stroke-width="0.65"/>
<circle cx="375.97" cy="332.39" r="1.57" fill="#fff" stroke="#3a9a3a" stroke-width="0.65"/>
<circle cx="378.49" cy="333.67" r="1.57" fill="#fff" stroke="#3a9a3a" stroke-width="0.65"/>
<circle cx="381.01" cy="333.74" r="1.57" fill="#fff" stroke="#3a9a3a" stroke-width="0.65"/>
<circle cx="383.53" cy="334.37" r="1.57" fill="#fff" stroke="#3a9a3a" stroke-width="0.65"/>
<circle cx="386.05" cy="334.77" r="1.57" fill="#fff" stroke="#3a9a3a" stroke-width="0.65"/>
<circle cx="388.57" cy="334.02" r="1.57" fill="#fff" stroke="#3a9a3a" stroke-width="0.65"/>
<circle cx="391.09" cy="333.99" r="1.57" fill="#fff" stroke="#3a9a3a" stroke-width="0.65"/>
<circle cx="393.61" cy="333.24" r="1.57" fill="#fff" stroke="#3a9a3a" stroke-width="0.65"/>
<circle cx="396.13" cy="333.31" r="1.57" fill="#fff" stroke="#3a9a3a" stroke-width="0.65"/>
<circle cx="398.65" cy="333.96" r="1.57" fill="#fff" stroke="#3a9a3a" stroke-width="0.65"/>
<circle cx="401.17" cy="333.48" r="1.57" fill="#fff" stroke="#3a9a3a" stroke-width="0.65"/>
<circle cx="403.69" cy="334.58" r="1.57" fill="#fff" stroke="#3a9a3a" stroke-width="0.65"/>
<circle cx="406.21" cy="334.05" r="1.57" fill="#fff" stroke="#3a9a3a" stroke-width="0.65"/>
<circle cx="408.73" cy="334.88" r="1.57" fill="#fff" stroke="#3a9a3a" stroke-width="0.65"/>
<circle cx="411.25" cy="335.08" r="1.57" fill="#fff" stroke="#3a9a3a" stroke-width="0.65"/>
<circle cx="413.77" cy="334.22" r="1.57" fill="#fff" stroke="#3a9a3a" stroke-width="0.65"/>
<circle cx="416.29" cy="334.58" r="1.57" fill="#fff" stroke="#3a9a3a" stroke-width="0.65"/>
<circle cx="418.81" cy="334.59" r="1.57" fill="#fff" stroke="#3a9a3a" stroke-width="0.65"/>
<circle cx="421.33" cy="334.00" r="1.57" fill="#fff" stroke="#3a9a3a" stroke-width="0.65"/>
<circle cx="423.85" cy="333.70" r="1.57" fill="#fff" stroke="#3a9a3a" stroke-width="0.65"/>
<circle cx="426.37" cy="333.65" r="1.57" fill="#fff" stroke="#3a9a3a" stroke-width="0.65"/>
<circle cx="428.89" cy="333.66" r="1.57" fill="#fff" stroke="#3a9a3a" stroke-width="0.65"/>
<circle cx="431.41" cy="333.39" r="1.57" fill="#fff" stroke="#3a9a3a" stroke-width="0.65"/>
<circle cx="433.93" cy="333.66" r="1.57" fill="#fff" stroke="#3a9a3a" stroke-width="0.65"/>
<circle cx="436.45" cy="333.54" r="1.57" fill="#fff" stroke="#3a9a3a" stroke-width="0.65"/>
<circle cx="438.97" cy="333.49" r="1.57" fill="#fff" stroke="#3a9a3a" stroke-width="0.65"/>
<circle cx="441.49" cy="332.94" r="1.57" fill="#fff" stroke="#3a9a3a" stroke-width="0.65"/>
<path d="M328.09,336.94V340.02M326.99,336.94h2.2M326.99,340.02h2.2M330.61,335.43V338.67M329.51,335.43h2.2M329.51,338.67h2.2M333.13,334.06V337.80M332.03,334.06h2.2M332.03,337.80h2.2M335.65,332.58V336.50M334.55,332.58h2.2M334.55,336.50h2.2M338.17,331.07V335.04M337.07,331.07h2.2M337.07,335.04h2.2M340.69,330.09V333.27M339.59,330.09h2.2M339.59,333.27h2.2M343.21,328.22V332.49M342.11,328.22h2.2M342.11,332.49h2.2M345.73,328.68V332.12M344.63,328.68h2.2M344.63,332.12h2.2M348.25,328.33V331.62M347.15,328.33h2.2M347.15,331.62h2.2M350.77,328.68V331.65M349.67,328.68h2.2M349.67,331.65h2.2M353.29,329.18V332.99M352.19,329.18h2.2M352.19,332.99h2.2M355.81,329.36V332.57M354.71,329.36h2.2M354.71,332.57h2.2M358.33,328.32V331.83M357.23,328.32h2.2M357.23,331.83h2.2M360.85,327.23V331.48M359.75,327.23h2.2M359.75,331.48h2.2M363.37,326.07V330.77M362.27,326.07h2.2M362.27,330.77h2.2M365.89,325.34V330.12M364.79,325.34h2.2M364.79,330.12h2.2M368.41,326.16V329.60M367.31,326.16h2.2M367.31,329.60h2.2M370.93,327.09V330.55M369.83,327.09h2.2M369.83,330.55h2.2M373.45,327.31V331.29M372.35,327.31h2.2M372.35,331.29h2.2M375.97,326.93V331.69M374.87,326.93h2.2M374.87,331.69h2.2M378.49,326.86V332.41M377.39,326.86h2.2M377.39,332.41h2.2M381.01,327.67V333.24M379.91,327.67h2.2M379.91,333.24h2.2M383.53,328.71V334.72M382.43,328.71h2.2M382.43,334.72h2.2M386.05,330.36V336.02M384.95,330.36h2.2M384.95,336.02h2.2M388.57,329.26V336.13M387.47,329.26h2.2M387.47,336.13h2.2M391.09,327.00V333.66M389.99,327.00h2.2M389.99,333.66h2.2M393.61,325.48V333.14M392.51,325.48h2.2M392.51,333.14h2.2M396.13,323.37V331.05M395.03,323.37h2.2M395.03,331.05h2.2M398.65,323.44V332.60M397.55,323.44h2.2M397.55,332.60h2.2M401.17,324.90V334.38M400.07,324.90h2.2M400.07,334.38h2.2M403.69,326.69V336.02M402.59,326.69h2.2M402.59,336.02h2.2M406.21,328.80V337.32M405.11,328.80h2.2M405.11,337.32h2.2M408.73,329.72V338.38M407.63,329.72h2.2M407.63,338.38h2.2M411.25,332.75V340.51M410.15,332.75h2.2M410.15,340.51h2.2M413.77,335.09V345.07M412.67,335.09h2.2M412.67,345.07h2.2M416.29,337.44V346.15M415.19,337.44h2.2M415.19,346.15h2.2M418.81,337.93V347.06M417.71,337.93h2.2M417.71,347.06h2.2M421.33,333.78V342.41M420.23,333.78h2.2M420.23,342.41h2.2M423.85,330.83V336.58M422.75,330.83h2.2M422.75,336.58h2.2M426.37,329.96V334.37M425.27,329.96h2.2M425.27,334.37h2.2M428.89,330.67V334.63M427.79,330.67h2.2M427.79,334.63h2.2M431.41,333.42V338.23M430.31,333.42h2.2M430.31,338.23h2.2M433.93,334.56V339.14M432.83,334.56h2.2M432.83,339.14h2.2M436.45,335.09V338.91M435.35,335.09h2.2M435.35,338.91h2.2M438.97,333.02V337.57M437.87,333.02h2.2M437.87,337.57h2.2M441.49,329.16V332.84M440.39,329.16h2.2M440.39,332.84h2.2" stroke="#007f00" stroke-width="0.5" fill="none"/>
<path d="M328.09,338.48 L330.61,337.05 L333.13,335.93 L335.65,334.54 L338.17,333.05 L340.69,331.68 L343.21,330.36 L345.73,330.40 L348.25,329.97 L350.77,330.17 L353.29,331.09 L355.81,330.96 L358.33,330.08 L360.85,329.36 L363.37,328.42 L365.89,327.73 L368.41,327.88 L370.93,328.82 L373.45,329.30 L375.97,329.31 L378.49,329.63 L381.01,330.45 L383.53,331.72 L386.05,333.19 L388.57,332.69 L391.09,330.33 L393.61,329.31 L396.13,327.21 L398.65,328.02 L401.17,329.64 L403.69,331.35 L406.21,333.06 L408.73,334.05 L411.25,336.63 L413.77,340.08 L416.29,341.79 L418.81,342.50 L421.33,338.10 L423.85,333.70 L426.37,332.16 L428.89,332.65 L431.41,335.83 L433.93,336.85 L436.45,337.00 L438.97,335.30 L441.49,331.00" fill="none" stroke="#007f00" stroke-width="1.0"/>
<circle cx="328.09" cy="338.48" r="1.7" fill="#007f00"/>
<circle cx="330.61" cy="337.05" r="1.7" fill="#007f00"/>
<circle cx="333.13" cy="335.93" r="1.7" fill="#007f00"/>
<circle cx="335.65" cy="334.54" r="1.7" fill="#007f00"/>
<circle cx="338.17" cy="333.05" r="1.7" fill="#007f00"/>
<circle cx="340.69" cy="331.68" r="1.7" fill="#007f00"/>
<circle cx="343.21" cy="330.36" r="1.7" fill="#007f00"/>
<circle cx="345.73" cy="330.40" r="1.7" fill="#007f00"/>
<circle cx="348.25" cy="329.97" r="1.7" fill="#007f00"/>
<circle cx="350.77" cy="330.17" r="1.7" fill="#007f00"/>
<circle cx="353.29" cy="331.09" r="1.7" fill="#007f00"/>
<circle cx="355.81" cy="330.96" r="1.7" fill="#007f00"/>
<circle cx="358.33" cy="330.08" r="1.7" fill="#007f00"/>
<circle cx="360.85" cy="329.36" r="1.7" fill="#007f00"/>
<circle cx="363.37" cy="328.42" r="1.7" fill="#007f00"/>
<circle cx="365.89" cy="327.73" r="1.7" fill="#007f00"/>
<circle cx="368.41" cy="327.88" r="1.7" fill="#007f00"/>
<circle cx="370.93" cy="328.82" r="1.7" fill="#007f00"/>
<circle cx="373.45" cy="329.30" r="1.7" fill="#007f00"/>
<circle cx="375.97" cy="329.31" r="1.7" fill="#007f00"/>
<circle cx="378.49" cy="329.63" r="1.7" fill="#007f00"/>
<circle cx="381.01" cy="330.45" r="1.7" fill="#007f00"/>
<circle cx="383.53" cy="331.72" r="1.7" fill="#007f00"/>
<circle cx="386.05" cy="333.19" r="1.7" fill="#007f00"/>
<circle cx="388.57" cy="332.69" r="1.7" fill="#007f00"/>
<circle cx="391.09" cy="330.33" r="1.7" fill="#007f00"/>
<circle cx="393.61" cy="329.31" r="1.7" fill="#007f00"/>
<circle cx="396.13" cy="327.21" r="1.7" fill="#007f00"/>
<circle cx="398.65" cy="328.02" r="1.7" fill="#007f00"/>
<circle cx="401.17" cy="329.64" r="1.7" fill="#007f00"/>
<circle cx="403.69" cy="331.35" r="1.7" fill="#007f00"/>
<circle cx="406.21" cy="333.06" r="1.7" fill="#007f00"/>
<circle cx="408.73" cy="334.05" r="1.7" fill="#007f00"/>
<circle cx="411.25" cy="336.63" r="1.7" fill="#007f00"/>
<circle cx="413.77" cy="340.08" r="1.7" fill="#007f00"/>
<circle cx="416.29" cy="341.79" r="1.7" fill="#007f00"/>
<circle cx="418.81" cy="342.50" r="1.7" fill="#007f00"/>
<circle cx="421.33" cy="338.10" r="1.7" fill="#007f00"/>
<circle cx="423.85" cy="333.70" r="1.7" fill="#007f00"/>
<circle cx="426.37" cy="332.16" r="1.7" fill="#007f00"/>
<circle cx="428.89" cy="332.65" r="1.7" fill="#007f00"/>
<circle cx="431.41" cy="335.83" r="1.7" fill="#007f00"/>
<circle cx="433.93" cy="336.85" r="1.7" fill="#007f00"/>
<circle cx="436.45" cy="337.00" r="1.7" fill="#007f00"/>
<circle cx="438.97" cy="335.30" r="1.7" fill="#007f00"/>
<circle cx="441.49" cy="331.00" r="1.7" fill="#007f00"/>
<line x1="328.5" y1="254.3" x2="441.48999999999995" y2="254.3" stroke="#333" stroke-width="1.0" stroke-dasharray="3.6 1.4"/>
<line x1="328.5" y1="334.1" x2="441.48999999999995" y2="334.1" stroke="#333" stroke-width="1.0" stroke-dasharray="3.6 1.4"/>
<line x1="327.50" y1="211.00" x2="327.50" y2="282.30" stroke="#2a2a2a" stroke-width="1.2" />
<line x1="327.50" y1="211.08" x2="330.10" y2="211.08" stroke="#222" stroke-width="1.0" />
<line x1="327.50" y1="225.32" x2="330.10" y2="225.32" stroke="#222" stroke-width="1.0" />
<line x1="327.50" y1="239.56" x2="330.10" y2="239.56" stroke="#222" stroke-width="1.0" />
<line x1="327.50" y1="253.80" x2="330.10" y2="253.80" stroke="#222" stroke-width="1.0" />
<line x1="327.50" y1="268.04" x2="330.10" y2="268.04" stroke="#222" stroke-width="1.0" />
<line x1="327.50" y1="282.28" x2="330.10" y2="282.28" stroke="#222" stroke-width="1.0" />
<line x1="327.50" y1="282.30" x2="443.90" y2="282.30" stroke="#2a2a2a" stroke-width="1.2" />
<line x1="335.65" y1="282.30" x2="335.65" y2="280.30" stroke="#222" stroke-width="1.0" />
<line x1="350.77" y1="282.30" x2="350.77" y2="280.30" stroke="#222" stroke-width="1.0" />
<line x1="365.89" y1="282.30" x2="365.89" y2="280.30" stroke="#222" stroke-width="1.0" />
<line x1="381.01" y1="282.30" x2="381.01" y2="280.30" stroke="#222" stroke-width="1.0" />
<line x1="396.13" y1="282.30" x2="396.13" y2="280.30" stroke="#222" stroke-width="1.0" />
<line x1="411.25" y1="282.30" x2="411.25" y2="280.30" stroke="#222" stroke-width="1.0" />
<line x1="426.37" y1="282.30" x2="426.37" y2="280.30" stroke="#222" stroke-width="1.0" />
<line x1="441.49" y1="282.30" x2="441.49" y2="280.30" stroke="#222" stroke-width="1.0" />
<line x1="327.50" y1="301.60" x2="327.50" y2="364.40" stroke="#2a2a2a" stroke-width="1.2" />
<line x1="327.50" y1="306.20" x2="330.10" y2="306.20" stroke="#222" stroke-width="1.0" />
<line x1="327.50" y1="315.60" x2="330.10" y2="315.60" stroke="#222" stroke-width="1.0" />
<line x1="327.50" y1="325.00" x2="330.10" y2="325.00" stroke="#222" stroke-width="1.0" />
<line x1="327.50" y1="334.40" x2="330.10" y2="334.40" stroke="#222" stroke-width="1.0" />
<line x1="327.50" y1="343.80" x2="330.10" y2="343.80" stroke="#222" stroke-width="1.0" />
<line x1="327.50" y1="353.20" x2="330.10" y2="353.20" stroke="#222" stroke-width="1.0" />
<line x1="327.50" y1="362.60" x2="330.10" y2="362.60" stroke="#222" stroke-width="1.0" />
<line x1="327.50" y1="364.40" x2="443.90" y2="364.40" stroke="#2a2a2a" stroke-width="1.2" />
<line x1="335.65" y1="364.40" x2="335.65" y2="362.40" stroke="#222" stroke-width="1.0" />
<line x1="350.77" y1="364.40" x2="350.77" y2="362.40" stroke="#222" stroke-width="1.0" />
<line x1="365.89" y1="364.40" x2="365.89" y2="362.40" stroke="#222" stroke-width="1.0" />
<line x1="381.01" y1="364.40" x2="381.01" y2="362.40" stroke="#222" stroke-width="1.0" />
<line x1="396.13" y1="364.40" x2="396.13" y2="362.40" stroke="#222" stroke-width="1.0" />
<line x1="411.25" y1="364.40" x2="411.25" y2="362.40" stroke="#222" stroke-width="1.0" />
<line x1="426.37" y1="364.40" x2="426.37" y2="362.40" stroke="#222" stroke-width="1.0" />
<line x1="441.49" y1="364.40" x2="441.49" y2="362.40" stroke="#222" stroke-width="1.0" />
<text transform="matrix(0.9259,0,0,1,23.979,0)" x="323.6" y="213.38" font-size="6.48" font-weight="bold" text-anchor="end" fill="#000" >1.5</text>
<text transform="matrix(0.9259,0,0,1,23.979,0)" x="323.6" y="227.62" font-size="6.48" font-weight="bold" text-anchor="end" fill="#000" >1.0</text>
<text transform="matrix(0.9259,0,0,1,23.979,0)" x="323.6" y="241.86" font-size="6.48" font-weight="bold" text-anchor="end" fill="#000" >0.5</text>
<text transform="matrix(0.9259,0,0,1,23.979,0)" x="323.6" y="256.1" font-size="6.48" font-weight="bold" text-anchor="end" fill="#000" >0.0</text>
<text transform="matrix(0.9259,0,0,1,23.979,0)" x="323.6" y="270.34" font-size="6.48" font-weight="bold" text-anchor="end" fill="#000" >-0.5</text>
<text transform="matrix(0.9259,0,0,1,23.979,0)" x="323.6" y="284.58" font-size="6.48" font-weight="bold" text-anchor="end" fill="#000" >-1.0</text>
<text transform="matrix(0.9259,0,0,1,24.008,0)" x="324.0" y="308.5" font-size="6.48" font-weight="bold" text-anchor="end" fill="#000" >3</text>
<text transform="matrix(0.9259,0,0,1,24.008,0)" x="324.0" y="317.9" font-size="6.48" font-weight="bold" text-anchor="end" fill="#000" >2</text>
<text transform="matrix(0.9259,0,0,1,24.008,0)" x="324.0" y="327.3" font-size="6.48" font-weight="bold" text-anchor="end" fill="#000" >1</text>
<text transform="matrix(0.9259,0,0,1,24.008,0)" x="324.0" y="336.7" font-size="6.48" font-weight="bold" text-anchor="end" fill="#000" >0</text>
<text transform="matrix(0.9259,0,0,1,24.008,0)" x="324.0" y="346.1" font-size="6.48" font-weight="bold" text-anchor="end" fill="#000" >-1</text>
<text transform="matrix(0.9259,0,0,1,24.008,0)" x="324.0" y="355.5" font-size="6.48" font-weight="bold" text-anchor="end" fill="#000" >-2</text>
<text transform="matrix(0.9259,0,0,1,24.008,0)" x="324.0" y="364.9" font-size="6.48" font-weight="bold" text-anchor="end" fill="#000" >-3</text>
<text transform="matrix(0.9259,0,0,1,24.842,0)" x="335.25" y="372.9" font-size="6.48" font-weight="bold" text-anchor="middle" fill="#000" >0</text>
<text transform="matrix(0.9259,0,0,1,25.962,0)" x="350.37" y="372.9" font-size="6.48" font-weight="bold" text-anchor="middle" fill="#000" >60</text>
<text transform="matrix(0.9259,0,0,1,27.083,0)" x="365.49" y="372.9" font-size="6.48" font-weight="bold" text-anchor="middle" fill="#000" >120</text>
<text transform="matrix(0.9259,0,0,1,28.203,0)" x="380.61" y="372.9" font-size="6.48" font-weight="bold" text-anchor="middle" fill="#000" >180</text>
<text transform="matrix(0.9259,0,0,1,29.324,0)" x="395.73" y="372.9" font-size="6.48" font-weight="bold" text-anchor="middle" fill="#000" >240</text>
<text transform="matrix(0.9259,0,0,1,30.444,0)" x="410.85" y="372.9" font-size="6.48" font-weight="bold" text-anchor="middle" fill="#000" >300</text>
<text transform="matrix(0.9259,0,0,1,31.564,0)" x="425.97" y="372.9" font-size="6.48" font-weight="bold" text-anchor="middle" fill="#000" >360</text>
<text transform="matrix(0.9259,0,0,1,32.685,0)" x="441.09" y="372.9" font-size="6.48" font-weight="bold" text-anchor="middle" fill="#000" >420</text>
<text transform="matrix(0.9259,0,0,1,33.167,0)" x="447.6" y="383.9" font-size="7.13" font-weight="bold" text-anchor="end" fill="#000" >TIME (min)</text>
<text transform="translate(258.4,205.3) scale(0.86,1)" x="0" y="0" font-size="12.3" font-weight="bold">c</text>
<text transform="matrix(0.9259,0,0,1,20.867,0)" y="216.3" font-size="7.41" font-weight="bold"><tspan x="281.60">&#916;T</tspan><tspan x="292.06" dy="1.88" font-size="5.69">C</tspan><tspan x="298.76" dy="-1.88">(</tspan><tspan x="301.09" dy="-2.91" font-size="5.08">O</tspan><tspan x="305.76" dy="2.91">C)</tspan></text>
<text transform="matrix(0.9259,0,0,1,20.585,0)" x="277.80" y="295.5" font-size="7.41" font-weight="bold">&#916;VO<tspan dy="2.07">2</tspan><tspan dy="-2.07"> (ml/kg/min)</tspan></text>
<text transform="matrix(0.9259,0,0,1,24.268,0)" x="327.5" y="207.2" font-size="7.41" font-weight="bold" text-anchor="start" fill="#000" >ICV injection</text>
<text transform="matrix(0.9259,0,0,1,31.485,0)" x="424.9" y="210.0" font-size="7.41" font-weight="bold" text-anchor="start" fill="#1f8f22" >CR6</text>
<line x1="446.20" y1="236.20" x2="446.20" y2="254.00" stroke="#2a2a2a" stroke-width="1.0" />
<text x="449.7" y="248.73" font-size="7.0" font-weight="bold" text-anchor="middle" fill="#000" >*</text>
<line x1="340.30" y1="317.40" x2="374.50" y2="317.40" stroke="#444" stroke-width="1.1" />
<text x="357.6" y="316.02" font-size="7.6" font-weight="bold" text-anchor="middle" fill="#000" >*</text>
<rect x="392.6" y="293.5" width="44.40" height="19.70" fill="#fff" stroke="#666" stroke-width="0.8" rx="0.8"/>
<line x1="394.86" y1="299.52" x2="409.52" y2="299.52" stroke="#1f8f1f" stroke-width="1.3" />
<circle cx="402.28" cy="299.52" r="1.9" fill="#007f00"/>
<line x1="394.86" y1="306.94" x2="409.52" y2="306.94" stroke="#5b5" stroke-width="0.9" />
<circle cx="402.28" cy="306.94" r="1.5" fill="#fff" stroke="#5b5" stroke-width="0.75"/>
<text transform="matrix(0.9259,0,0,1,30.568,0)" x="412.53" y="301.78" font-size="6.70" font-weight="bold" text-anchor="start" fill="#000" >UCN2</text>
<text transform="matrix(0.9259,0,0,1,30.568,0)" x="412.53" y="309.2" font-size="6.70" font-weight="bold" text-anchor="start" fill="#000" >control</text>
</g>
</svg></body></html>
